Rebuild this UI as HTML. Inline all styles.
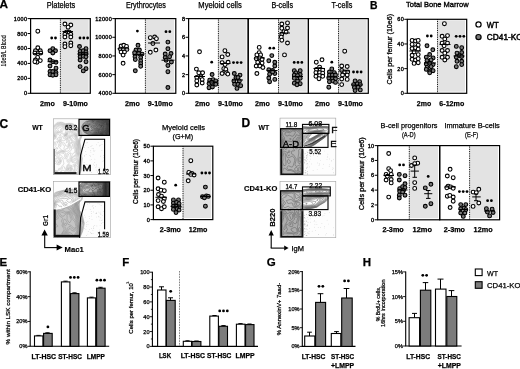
<!DOCTYPE html>
<html><head><meta charset="utf-8"><title>Figure</title>
<style>html,body{margin:0;padding:0;background:#fff;} svg{display:block;}</style>
</head><body>
<svg width="520" height="369" viewBox="0 0 520 369">
<rect x="0" y="0" width="520" height="369" fill="#fff"/>
<text x="-0.6" y="8.4" font-size="11.8" font-family="'Liberation Sans', Arial, sans-serif" fill="#000" stroke="#000" stroke-width="0.25" font-weight="bold">A</text>
<rect x="60.4" y="19.6" width="28.2" height="72.1" fill="#e3e3e3" stroke="none" stroke-width="1"/>
<line x1="60.4" y1="18.6" x2="60.4" y2="93.3" stroke="#000" stroke-width="1.0" stroke-dasharray="0.9,0.9"/>
<rect x="30.6" y="18.6" width="59.699999999999996" height="74.69999999999999" fill="none" stroke="#000" stroke-width="1.2"/>
<text x="46.7" y="7.8" font-size="8.4" font-family="'Liberation Sans', Arial, sans-serif" fill="#000" stroke="#000" stroke-width="0.25" textLength="28.6" lengthAdjust="spacingAndGlyphs">Platelets</text>
<text x="47.5" y="105.5" font-size="7.4" font-family="'Liberation Sans', Arial, sans-serif" fill="#000" stroke="#000" stroke-width="0.25" font-weight="bold" text-anchor="middle" textLength="14.8" lengthAdjust="spacingAndGlyphs">2mo</text>
<text x="75.5" y="105.5" font-size="7.4" font-family="'Liberation Sans', Arial, sans-serif" fill="#000" stroke="#000" stroke-width="0.25" font-weight="bold" text-anchor="middle" textLength="24.9" lengthAdjust="spacingAndGlyphs">9-10mo</text>
<rect x="145.4" y="19.6" width="28.700000000000006" height="72.1" fill="#e3e3e3" stroke="none" stroke-width="1"/>
<line x1="145.4" y1="18.6" x2="145.4" y2="93.3" stroke="#000" stroke-width="1.0" stroke-dasharray="0.9,0.9"/>
<rect x="115.3" y="18.6" width="60.500000000000014" height="74.69999999999999" fill="none" stroke="#000" stroke-width="1.2"/>
<text x="125.9" y="7.8" font-size="8.4" font-family="'Liberation Sans', Arial, sans-serif" fill="#000" stroke="#000" stroke-width="0.25" textLength="40.0" lengthAdjust="spacingAndGlyphs">Erythrocytes</text>
<text x="132.5" y="105.5" font-size="7.4" font-family="'Liberation Sans', Arial, sans-serif" fill="#000" stroke="#000" stroke-width="0.25" font-weight="bold" text-anchor="middle" textLength="14.8" lengthAdjust="spacingAndGlyphs">2mo</text>
<text x="160.3" y="105.5" font-size="7.4" font-family="'Liberation Sans', Arial, sans-serif" fill="#000" stroke="#000" stroke-width="0.25" font-weight="bold" text-anchor="middle" textLength="24.9" lengthAdjust="spacingAndGlyphs">9-10mo</text>
<rect x="218.4" y="19.6" width="28.099999999999984" height="72.1" fill="#e3e3e3" stroke="none" stroke-width="1"/>
<line x1="218.4" y1="18.6" x2="218.4" y2="93.3" stroke="#000" stroke-width="1.0" stroke-dasharray="0.9,0.9"/>
<rect x="188.6" y="18.6" width="59.599999999999994" height="74.69999999999999" fill="none" stroke="#000" stroke-width="1.2"/>
<text x="198.3" y="7.8" font-size="8.4" font-family="'Liberation Sans', Arial, sans-serif" fill="#000" stroke="#000" stroke-width="0.25" textLength="43.5" lengthAdjust="spacingAndGlyphs">Myeloid cells</text>
<text x="202.5" y="105.5" font-size="7.4" font-family="'Liberation Sans', Arial, sans-serif" fill="#000" stroke="#000" stroke-width="0.25" font-weight="bold" text-anchor="middle" textLength="14.8" lengthAdjust="spacingAndGlyphs">2mo</text>
<text x="230.5" y="105.5" font-size="7.4" font-family="'Liberation Sans', Arial, sans-serif" fill="#000" stroke="#000" stroke-width="0.25" font-weight="bold" text-anchor="middle" textLength="24.9" lengthAdjust="spacingAndGlyphs">9-10mo</text>
<rect x="278.5" y="19.6" width="28.199999999999978" height="72.1" fill="#e3e3e3" stroke="none" stroke-width="1"/>
<line x1="278.5" y1="18.6" x2="278.5" y2="93.3" stroke="#000" stroke-width="1.0" stroke-dasharray="0.9,0.9"/>
<rect x="248.2" y="18.6" width="60.19999999999999" height="74.69999999999999" fill="none" stroke="#000" stroke-width="1.2"/>
<text x="271.4" y="7.8" font-size="8.4" font-family="'Liberation Sans', Arial, sans-serif" fill="#000" stroke="#000" stroke-width="0.25" textLength="21.6" lengthAdjust="spacingAndGlyphs">B-cells</text>
<text x="262.5" y="105.5" font-size="7.4" font-family="'Liberation Sans', Arial, sans-serif" fill="#000" stroke="#000" stroke-width="0.25" font-weight="bold" text-anchor="middle" textLength="14.8" lengthAdjust="spacingAndGlyphs">2mo</text>
<text x="290.5" y="105.5" font-size="7.4" font-family="'Liberation Sans', Arial, sans-serif" fill="#000" stroke="#000" stroke-width="0.25" font-weight="bold" text-anchor="middle" textLength="24.9" lengthAdjust="spacingAndGlyphs">9-10mo</text>
<rect x="338.5" y="19.6" width="28.100000000000012" height="72.1" fill="#e3e3e3" stroke="none" stroke-width="1"/>
<line x1="338.5" y1="18.6" x2="338.5" y2="93.3" stroke="#000" stroke-width="1.0" stroke-dasharray="0.9,0.9"/>
<rect x="308.4" y="18.6" width="59.900000000000034" height="74.69999999999999" fill="none" stroke="#000" stroke-width="1.2"/>
<text x="331.4" y="7.8" font-size="8.4" font-family="'Liberation Sans', Arial, sans-serif" fill="#000" stroke="#000" stroke-width="0.25" textLength="20.9" lengthAdjust="spacingAndGlyphs">T-cells</text>
<text x="322.5" y="105.5" font-size="7.4" font-family="'Liberation Sans', Arial, sans-serif" fill="#000" stroke="#000" stroke-width="0.25" font-weight="bold" text-anchor="middle" textLength="14.8" lengthAdjust="spacingAndGlyphs">2mo</text>
<text x="350.5" y="105.5" font-size="7.4" font-family="'Liberation Sans', Arial, sans-serif" fill="#000" stroke="#000" stroke-width="0.25" font-weight="bold" text-anchor="middle" textLength="24.9" lengthAdjust="spacingAndGlyphs">9-10mo</text>
<line x1="27.6" y1="18.6" x2="30.6" y2="18.6" stroke="#000" stroke-width="1"/>
<text x="27.3" y="20.6" font-size="5.5" font-family="'Liberation Sans', Arial, sans-serif" fill="#000" stroke="#000" stroke-width="0.35" text-anchor="end" letter-spacing="0.3">1000</text>
<line x1="27.6" y1="33.54" x2="30.6" y2="33.54" stroke="#000" stroke-width="1"/>
<text x="27.3" y="35.54" font-size="5.5" font-family="'Liberation Sans', Arial, sans-serif" fill="#000" stroke="#000" stroke-width="0.35" text-anchor="end" letter-spacing="0.3">800</text>
<line x1="27.6" y1="48.48" x2="30.6" y2="48.48" stroke="#000" stroke-width="1"/>
<text x="27.3" y="50.48" font-size="5.5" font-family="'Liberation Sans', Arial, sans-serif" fill="#000" stroke="#000" stroke-width="0.35" text-anchor="end" letter-spacing="0.3">600</text>
<line x1="27.6" y1="63.419999999999995" x2="30.6" y2="63.419999999999995" stroke="#000" stroke-width="1"/>
<text x="27.3" y="65.41999999999999" font-size="5.5" font-family="'Liberation Sans', Arial, sans-serif" fill="#000" stroke="#000" stroke-width="0.35" text-anchor="end" letter-spacing="0.3">400</text>
<line x1="27.6" y1="78.35999999999999" x2="30.6" y2="78.35999999999999" stroke="#000" stroke-width="1"/>
<text x="27.3" y="80.35999999999999" font-size="5.5" font-family="'Liberation Sans', Arial, sans-serif" fill="#000" stroke="#000" stroke-width="0.35" text-anchor="end" letter-spacing="0.3">200</text>
<line x1="27.6" y1="93.29999999999998" x2="30.6" y2="93.29999999999998" stroke="#000" stroke-width="1"/>
<text x="27.3" y="95.29999999999998" font-size="5.5" font-family="'Liberation Sans', Arial, sans-serif" fill="#000" stroke="#000" stroke-width="0.35" text-anchor="end" letter-spacing="0.3">0</text>
<line x1="112.3" y1="18.6" x2="115.3" y2="18.6" stroke="#000" stroke-width="1"/>
<text x="112.0" y="20.6" font-size="5.5" font-family="'Liberation Sans', Arial, sans-serif" fill="#000" stroke="#000" stroke-width="0.35" text-anchor="end" letter-spacing="0.3">12000</text>
<line x1="112.3" y1="37.275" x2="115.3" y2="37.275" stroke="#000" stroke-width="1"/>
<text x="112.0" y="39.275" font-size="5.5" font-family="'Liberation Sans', Arial, sans-serif" fill="#000" stroke="#000" stroke-width="0.35" text-anchor="end" letter-spacing="0.3">10000</text>
<line x1="112.3" y1="55.949999999999996" x2="115.3" y2="55.949999999999996" stroke="#000" stroke-width="1"/>
<text x="112.0" y="57.949999999999996" font-size="5.5" font-family="'Liberation Sans', Arial, sans-serif" fill="#000" stroke="#000" stroke-width="0.35" text-anchor="end" letter-spacing="0.3">8000</text>
<line x1="112.3" y1="74.625" x2="115.3" y2="74.625" stroke="#000" stroke-width="1"/>
<text x="112.0" y="76.625" font-size="5.5" font-family="'Liberation Sans', Arial, sans-serif" fill="#000" stroke="#000" stroke-width="0.35" text-anchor="end" letter-spacing="0.3">6000</text>
<line x1="112.3" y1="93.29999999999998" x2="115.3" y2="93.29999999999998" stroke="#000" stroke-width="1"/>
<text x="112.0" y="95.29999999999998" font-size="5.5" font-family="'Liberation Sans', Arial, sans-serif" fill="#000" stroke="#000" stroke-width="0.35" text-anchor="end" letter-spacing="0.3">4000</text>
<line x1="185.6" y1="18.6" x2="188.6" y2="18.6" stroke="#000" stroke-width="1"/>
<text x="185.29999999999998" y="20.6" font-size="5.5" font-family="'Liberation Sans', Arial, sans-serif" fill="#000" stroke="#000" stroke-width="0.35" text-anchor="end" letter-spacing="0.3">8</text>
<line x1="185.6" y1="37.275" x2="188.6" y2="37.275" stroke="#000" stroke-width="1"/>
<text x="185.29999999999998" y="39.275" font-size="5.5" font-family="'Liberation Sans', Arial, sans-serif" fill="#000" stroke="#000" stroke-width="0.35" text-anchor="end" letter-spacing="0.3">6</text>
<line x1="185.6" y1="55.949999999999996" x2="188.6" y2="55.949999999999996" stroke="#000" stroke-width="1"/>
<text x="185.29999999999998" y="57.949999999999996" font-size="5.5" font-family="'Liberation Sans', Arial, sans-serif" fill="#000" stroke="#000" stroke-width="0.35" text-anchor="end" letter-spacing="0.3">4</text>
<line x1="185.6" y1="74.625" x2="188.6" y2="74.625" stroke="#000" stroke-width="1"/>
<text x="185.29999999999998" y="76.625" font-size="5.5" font-family="'Liberation Sans', Arial, sans-serif" fill="#000" stroke="#000" stroke-width="0.35" text-anchor="end" letter-spacing="0.3">2</text>
<line x1="185.6" y1="93.29999999999998" x2="188.6" y2="93.29999999999998" stroke="#000" stroke-width="1"/>
<text x="185.29999999999998" y="95.29999999999998" font-size="5.5" font-family="'Liberation Sans', Arial, sans-serif" fill="#000" stroke="#000" stroke-width="0.35" text-anchor="end" letter-spacing="0.3">0</text>
<text x="6.0" y="50.9" font-size="6.4" font-family="'Liberation Sans', Arial, sans-serif" fill="#000" stroke="#000" stroke-width="0.15" text-anchor="middle" textLength="31.2" lengthAdjust="spacingAndGlyphs" transform="rotate(-90 6.0 50.9)">10e9/L Blood</text>
<rect x="437.5" y="20.3" width="27.49999999999999" height="71.4" fill="#e3e3e3" stroke="none" stroke-width="1"/>
<line x1="437.5" y1="19.3" x2="437.5" y2="93.3" stroke="#000" stroke-width="1.0" stroke-dasharray="0.9,0.9"/>
<rect x="407.3" y="19.3" width="59.39999999999998" height="74.0" fill="none" stroke="#000" stroke-width="1.2"/>
<line x1="404.3" y1="19.3" x2="407.3" y2="19.3" stroke="#000" stroke-width="1"/>
<text x="404.0" y="21.3" font-size="5.5" font-family="'Liberation Sans', Arial, sans-serif" fill="#000" stroke="#000" stroke-width="0.35" text-anchor="end" letter-spacing="0.3">60</text>
<line x1="404.3" y1="43.96666666666667" x2="407.3" y2="43.96666666666667" stroke="#000" stroke-width="1"/>
<text x="404.0" y="45.96666666666667" font-size="5.5" font-family="'Liberation Sans', Arial, sans-serif" fill="#000" stroke="#000" stroke-width="0.35" text-anchor="end" letter-spacing="0.3">40</text>
<line x1="404.3" y1="68.63333333333333" x2="407.3" y2="68.63333333333333" stroke="#000" stroke-width="1"/>
<text x="404.0" y="70.63333333333333" font-size="5.5" font-family="'Liberation Sans', Arial, sans-serif" fill="#000" stroke="#000" stroke-width="0.35" text-anchor="end" letter-spacing="0.3">20</text>
<line x1="404.3" y1="93.3" x2="407.3" y2="93.3" stroke="#000" stroke-width="1"/>
<text x="404.0" y="95.3" font-size="5.5" font-family="'Liberation Sans', Arial, sans-serif" fill="#000" stroke="#000" stroke-width="0.35" text-anchor="end" letter-spacing="0.3">0</text>
<text x="370.0" y="8.7" font-size="10.4" font-family="'Liberation Sans', Arial, sans-serif" fill="#000" stroke="#000" stroke-width="0.25" font-weight="bold">B</text>
<text x="406" y="7.4" font-size="7.5" font-family="'Liberation Sans', Arial, sans-serif" fill="#000" stroke="#000" stroke-width="0.35" textLength="62.6" lengthAdjust="spacingAndGlyphs">Total Bone Marrow</text>
<text x="424" y="105.5" font-size="7.4" font-family="'Liberation Sans', Arial, sans-serif" fill="#000" stroke="#000" stroke-width="0.25" font-weight="bold" text-anchor="middle" textLength="14.4" lengthAdjust="spacingAndGlyphs">2mo</text>
<text x="451.8" y="105.5" font-size="7.4" font-family="'Liberation Sans', Arial, sans-serif" fill="#000" stroke="#000" stroke-width="0.25" font-weight="bold" text-anchor="middle" textLength="24.9" lengthAdjust="spacingAndGlyphs">6-12mo</text>
<text x="391.8" y="49.2" font-size="7.8" font-family="'Liberation Sans', Arial, sans-serif" fill="#000" stroke="#000" stroke-width="0.3" text-anchor="middle" textLength="70.5" lengthAdjust="spacingAndGlyphs" transform="rotate(-90 391.8 49.2)">Cells per femur (10e6)</text>
<circle cx="478.5" cy="24.4" r="2.6" fill="#fff" stroke="#000" stroke-width="1.2"/>
<text x="486.8" y="27.6" font-size="8.2" font-family="'Liberation Sans', Arial, sans-serif" fill="#000" stroke="#000" stroke-width="0.45" textLength="11.9" lengthAdjust="spacingAndGlyphs">WT</text>
<circle cx="478.5" cy="37.1" r="2.6" fill="#7a7a7a" stroke="#000" stroke-width="1.2"/>
<text x="486.8" y="40.1" font-size="8.2" font-family="'Liberation Sans', Arial, sans-serif" fill="#000" stroke="#000" stroke-width="0.45" textLength="36" lengthAdjust="spacingAndGlyphs">CD41-KO</text>
<circle cx="37.8" cy="31.2" r="1.9" fill="#fff" stroke="#000" stroke-width="1.1"/>
<circle cx="37.8" cy="47.8" r="1.9" fill="#fff" stroke="#000" stroke-width="1.1"/>
<circle cx="35.4" cy="50.8" r="1.9" fill="#fff" stroke="#000" stroke-width="1.1"/>
<circle cx="40.3" cy="50.8" r="1.9" fill="#fff" stroke="#000" stroke-width="1.1"/>
<circle cx="34.9" cy="53" r="1.9" fill="#fff" stroke="#000" stroke-width="1.1"/>
<circle cx="38.1" cy="53.6" r="1.9" fill="#fff" stroke="#000" stroke-width="1.1"/>
<circle cx="40.8" cy="53" r="1.9" fill="#fff" stroke="#000" stroke-width="1.1"/>
<circle cx="37.6" cy="57.4" r="1.9" fill="#fff" stroke="#000" stroke-width="1.1"/>
<circle cx="35.4" cy="60" r="1.9" fill="#fff" stroke="#000" stroke-width="1.1"/>
<circle cx="40.3" cy="60.6" r="1.9" fill="#fff" stroke="#000" stroke-width="1.1"/>
<circle cx="37" cy="62.2" r="1.9" fill="#fff" stroke="#000" stroke-width="1.1"/>
<circle cx="34.9" cy="61.7" r="1.9" fill="#fff" stroke="#000" stroke-width="1.1"/>
<line x1="33" y1="53.6" x2="43" y2="53.6" stroke="#000" stroke-width="1"/>
<circle cx="52.8" cy="48.7" r="1.9" fill="#7a7a7a" stroke="#000" stroke-width="1.1"/>
<circle cx="50" cy="50.8" r="1.9" fill="#7a7a7a" stroke="#000" stroke-width="1.1"/>
<circle cx="55.5" cy="50.8" r="1.9" fill="#7a7a7a" stroke="#000" stroke-width="1.1"/>
<circle cx="52.8" cy="53" r="1.9" fill="#7a7a7a" stroke="#000" stroke-width="1.1"/>
<circle cx="50" cy="60" r="1.9" fill="#7a7a7a" stroke="#000" stroke-width="1.1"/>
<circle cx="52.8" cy="61.7" r="1.9" fill="#7a7a7a" stroke="#000" stroke-width="1.1"/>
<circle cx="56" cy="62.2" r="1.9" fill="#7a7a7a" stroke="#000" stroke-width="1.1"/>
<circle cx="50" cy="66" r="1.9" fill="#7a7a7a" stroke="#000" stroke-width="1.1"/>
<circle cx="56" cy="68.2" r="1.9" fill="#7a7a7a" stroke="#000" stroke-width="1.1"/>
<circle cx="50" cy="71.5" r="1.9" fill="#7a7a7a" stroke="#000" stroke-width="1.1"/>
<circle cx="52.8" cy="71.5" r="1.9" fill="#7a7a7a" stroke="#000" stroke-width="1.1"/>
<circle cx="56" cy="72.5" r="1.9" fill="#7a7a7a" stroke="#000" stroke-width="1.1"/>
<circle cx="50" cy="74.7" r="1.9" fill="#7a7a7a" stroke="#000" stroke-width="1.1"/>
<circle cx="52.8" cy="75.2" r="1.9" fill="#7a7a7a" stroke="#000" stroke-width="1.1"/>
<circle cx="56" cy="74.7" r="1.9" fill="#7a7a7a" stroke="#000" stroke-width="1.1"/>
<line x1="47.5" y1="61.7" x2="58" y2="61.7" stroke="#000" stroke-width="1"/>
<circle cx="51.70" cy="38" r="1.4" fill="#000"/>
<circle cx="55.50" cy="38" r="1.4" fill="#000"/>
<circle cx="64.9" cy="24" r="1.9" fill="#fff" stroke="#000" stroke-width="1.1"/>
<circle cx="70.8" cy="25" r="1.9" fill="#fff" stroke="#000" stroke-width="1.1"/>
<circle cx="68.1" cy="27.2" r="1.9" fill="#fff" stroke="#000" stroke-width="1.1"/>
<circle cx="66.5" cy="32.1" r="1.9" fill="#fff" stroke="#000" stroke-width="1.1"/>
<circle cx="69.2" cy="32.1" r="1.9" fill="#fff" stroke="#000" stroke-width="1.1"/>
<circle cx="64.9" cy="34.3" r="1.9" fill="#fff" stroke="#000" stroke-width="1.1"/>
<circle cx="70.8" cy="34.3" r="1.9" fill="#fff" stroke="#000" stroke-width="1.1"/>
<circle cx="64.9" cy="37" r="1.9" fill="#fff" stroke="#000" stroke-width="1.1"/>
<circle cx="70.8" cy="37" r="1.9" fill="#fff" stroke="#000" stroke-width="1.1"/>
<circle cx="64.9" cy="44" r="1.9" fill="#fff" stroke="#000" stroke-width="1.1"/>
<circle cx="70.8" cy="43" r="1.9" fill="#fff" stroke="#000" stroke-width="1.1"/>
<circle cx="64.9" cy="46.7" r="1.9" fill="#fff" stroke="#000" stroke-width="1.1"/>
<circle cx="70.8" cy="45.7" r="1.9" fill="#fff" stroke="#000" stroke-width="1.1"/>
<line x1="62.5" y1="31.5" x2="73" y2="31.5" stroke="#000" stroke-width="1"/>
<circle cx="79.5" cy="46.5" r="1.9" fill="#7a7a7a" stroke="#000" stroke-width="1.1"/>
<circle cx="86" cy="48.7" r="1.9" fill="#7a7a7a" stroke="#000" stroke-width="1.1"/>
<circle cx="80.1" cy="51.4" r="1.9" fill="#7a7a7a" stroke="#000" stroke-width="1.1"/>
<circle cx="83.3" cy="50.8" r="1.9" fill="#7a7a7a" stroke="#000" stroke-width="1.1"/>
<circle cx="86" cy="51.9" r="1.9" fill="#7a7a7a" stroke="#000" stroke-width="1.1"/>
<circle cx="80.1" cy="54.1" r="1.9" fill="#7a7a7a" stroke="#000" stroke-width="1.1"/>
<circle cx="83.3" cy="54.1" r="1.9" fill="#7a7a7a" stroke="#000" stroke-width="1.1"/>
<circle cx="86" cy="54.1" r="1.9" fill="#7a7a7a" stroke="#000" stroke-width="1.1"/>
<circle cx="80.1" cy="56.8" r="1.9" fill="#7a7a7a" stroke="#000" stroke-width="1.1"/>
<circle cx="83.3" cy="56.3" r="1.9" fill="#7a7a7a" stroke="#000" stroke-width="1.1"/>
<circle cx="86" cy="56.8" r="1.9" fill="#7a7a7a" stroke="#000" stroke-width="1.1"/>
<circle cx="80.1" cy="60" r="1.9" fill="#7a7a7a" stroke="#000" stroke-width="1.1"/>
<circle cx="86" cy="61.7" r="1.9" fill="#7a7a7a" stroke="#000" stroke-width="1.1"/>
<circle cx="80.1" cy="66.6" r="1.9" fill="#7a7a7a" stroke="#000" stroke-width="1.1"/>
<circle cx="86" cy="68.7" r="1.9" fill="#7a7a7a" stroke="#000" stroke-width="1.1"/>
<circle cx="83.3" cy="70.9" r="1.9" fill="#7a7a7a" stroke="#000" stroke-width="1.1"/>
<line x1="77.5" y1="54" x2="88.5" y2="54" stroke="#000" stroke-width="1"/>
<circle cx="80.00" cy="38" r="1.4" fill="#000"/>
<circle cx="83.80" cy="38" r="1.4" fill="#000"/>
<circle cx="87.60" cy="38" r="1.4" fill="#000"/>
<circle cx="121.1" cy="46" r="1.9" fill="#fff" stroke="#000" stroke-width="1.1"/>
<circle cx="123.8" cy="45.3" r="1.9" fill="#fff" stroke="#000" stroke-width="1.1"/>
<circle cx="126.5" cy="46.4" r="1.9" fill="#fff" stroke="#000" stroke-width="1.1"/>
<circle cx="120.4" cy="49.1" r="1.9" fill="#fff" stroke="#000" stroke-width="1.1"/>
<circle cx="123.4" cy="49.4" r="1.9" fill="#fff" stroke="#000" stroke-width="1.1"/>
<circle cx="126.9" cy="49.4" r="1.9" fill="#fff" stroke="#000" stroke-width="1.1"/>
<circle cx="121.1" cy="52.1" r="1.9" fill="#fff" stroke="#000" stroke-width="1.1"/>
<circle cx="124.5" cy="52.1" r="1.9" fill="#fff" stroke="#000" stroke-width="1.1"/>
<circle cx="123.1" cy="55.1" r="1.9" fill="#fff" stroke="#000" stroke-width="1.1"/>
<circle cx="123.1" cy="63.3" r="1.9" fill="#fff" stroke="#000" stroke-width="1.1"/>
<line x1="117.5" y1="48.8" x2="128.5" y2="48.8" stroke="#000" stroke-width="1"/>
<circle cx="138" cy="45.3" r="1.9" fill="#7a7a7a" stroke="#000" stroke-width="1.1"/>
<circle cx="136" cy="50" r="1.9" fill="#7a7a7a" stroke="#000" stroke-width="1.1"/>
<circle cx="139.4" cy="50" r="1.9" fill="#7a7a7a" stroke="#000" stroke-width="1.1"/>
<circle cx="134.6" cy="52.8" r="1.9" fill="#7a7a7a" stroke="#000" stroke-width="1.1"/>
<circle cx="138.7" cy="53.5" r="1.9" fill="#7a7a7a" stroke="#000" stroke-width="1.1"/>
<circle cx="142.1" cy="54.1" r="1.9" fill="#7a7a7a" stroke="#000" stroke-width="1.1"/>
<circle cx="135" cy="56.8" r="1.9" fill="#7a7a7a" stroke="#000" stroke-width="1.1"/>
<circle cx="140.7" cy="57.5" r="1.9" fill="#7a7a7a" stroke="#000" stroke-width="1.1"/>
<circle cx="135.3" cy="59.6" r="1.9" fill="#7a7a7a" stroke="#000" stroke-width="1.1"/>
<circle cx="140.7" cy="60.9" r="1.9" fill="#7a7a7a" stroke="#000" stroke-width="1.1"/>
<circle cx="140.7" cy="63.6" r="1.9" fill="#7a7a7a" stroke="#000" stroke-width="1.1"/>
<circle cx="140.7" cy="66.3" r="1.9" fill="#7a7a7a" stroke="#000" stroke-width="1.1"/>
<circle cx="135.3" cy="70.8" r="1.9" fill="#7a7a7a" stroke="#000" stroke-width="1.1"/>
<line x1="132.5" y1="54.6" x2="143.5" y2="54.6" stroke="#000" stroke-width="1"/>
<circle cx="137.40" cy="31.1" r="1.4" fill="#000"/>
<circle cx="150.3" cy="37.7" r="1.9" fill="#fff" stroke="#000" stroke-width="1.1"/>
<circle cx="154.7" cy="37" r="1.9" fill="#fff" stroke="#000" stroke-width="1.1"/>
<circle cx="156.4" cy="38.7" r="1.9" fill="#fff" stroke="#000" stroke-width="1.1"/>
<circle cx="152.9" cy="43.5" r="1.9" fill="#fff" stroke="#000" stroke-width="1.1"/>
<circle cx="150.3" cy="52.3" r="1.9" fill="#fff" stroke="#000" stroke-width="1.1"/>
<circle cx="155.9" cy="50" r="1.9" fill="#fff" stroke="#000" stroke-width="1.1"/>
<line x1="148" y1="43" x2="160" y2="43" stroke="#000" stroke-width="1"/>
<circle cx="167.9" cy="42.1" r="1.9" fill="#7a7a7a" stroke="#000" stroke-width="1.1"/>
<circle cx="167.9" cy="48.8" r="1.9" fill="#7a7a7a" stroke="#000" stroke-width="1.1"/>
<circle cx="165.2" cy="54" r="1.9" fill="#7a7a7a" stroke="#000" stroke-width="1.1"/>
<circle cx="171" cy="53.5" r="1.9" fill="#7a7a7a" stroke="#000" stroke-width="1.1"/>
<circle cx="165.2" cy="57.6" r="1.9" fill="#7a7a7a" stroke="#000" stroke-width="1.1"/>
<circle cx="169.6" cy="56.7" r="1.9" fill="#7a7a7a" stroke="#000" stroke-width="1.1"/>
<circle cx="166.1" cy="60.2" r="1.9" fill="#7a7a7a" stroke="#000" stroke-width="1.1"/>
<circle cx="171.4" cy="62" r="1.9" fill="#7a7a7a" stroke="#000" stroke-width="1.1"/>
<circle cx="167.9" cy="65.5" r="1.9" fill="#7a7a7a" stroke="#000" stroke-width="1.1"/>
<circle cx="167.9" cy="71.7" r="1.9" fill="#7a7a7a" stroke="#000" stroke-width="1.1"/>
<circle cx="167.9" cy="87.5" r="1.9" fill="#7a7a7a" stroke="#000" stroke-width="1.1"/>
<line x1="161.5" y1="60.2" x2="174.5" y2="60.2" stroke="#000" stroke-width="1"/>
<circle cx="166.00" cy="31.7" r="1.4" fill="#000"/>
<circle cx="169.80" cy="31.7" r="1.4" fill="#000"/>
<circle cx="199.5" cy="51.8" r="1.9" fill="#fff" stroke="#000" stroke-width="1.1"/>
<circle cx="196.4" cy="69.1" r="1.9" fill="#fff" stroke="#000" stroke-width="1.1"/>
<circle cx="198.8" cy="72.8" r="1.9" fill="#fff" stroke="#000" stroke-width="1.1"/>
<circle cx="202.6" cy="72.8" r="1.9" fill="#fff" stroke="#000" stroke-width="1.1"/>
<circle cx="196.8" cy="77.5" r="1.9" fill="#fff" stroke="#000" stroke-width="1.1"/>
<circle cx="200.9" cy="76.8" r="1.9" fill="#fff" stroke="#000" stroke-width="1.1"/>
<circle cx="196.8" cy="80.9" r="1.9" fill="#fff" stroke="#000" stroke-width="1.1"/>
<circle cx="202.2" cy="79.6" r="1.9" fill="#fff" stroke="#000" stroke-width="1.1"/>
<circle cx="196.8" cy="85" r="1.9" fill="#fff" stroke="#000" stroke-width="1.1"/>
<circle cx="202.2" cy="83" r="1.9" fill="#fff" stroke="#000" stroke-width="1.1"/>
<line x1="194" y1="76.5" x2="205" y2="76.5" stroke="#000" stroke-width="1"/>
<circle cx="212.1" cy="74.5" r="1.9" fill="#7a7a7a" stroke="#000" stroke-width="1.1"/>
<circle cx="209.7" cy="80.2" r="1.9" fill="#7a7a7a" stroke="#000" stroke-width="1.1"/>
<circle cx="213.1" cy="79.6" r="1.9" fill="#7a7a7a" stroke="#000" stroke-width="1.1"/>
<circle cx="215.8" cy="80.9" r="1.9" fill="#7a7a7a" stroke="#000" stroke-width="1.1"/>
<circle cx="209" cy="83.6" r="1.9" fill="#7a7a7a" stroke="#000" stroke-width="1.1"/>
<circle cx="212.4" cy="83.6" r="1.9" fill="#7a7a7a" stroke="#000" stroke-width="1.1"/>
<circle cx="215.8" cy="84.3" r="1.9" fill="#7a7a7a" stroke="#000" stroke-width="1.1"/>
<circle cx="209" cy="87.7" r="1.9" fill="#7a7a7a" stroke="#000" stroke-width="1.1"/>
<circle cx="212.4" cy="87" r="1.9" fill="#7a7a7a" stroke="#000" stroke-width="1.1"/>
<circle cx="211.7" cy="82.3" r="1.9" fill="#7a7a7a" stroke="#000" stroke-width="1.1"/>
<line x1="207" y1="82" x2="217.5" y2="82" stroke="#000" stroke-width="1"/>
<circle cx="211.70" cy="62.2" r="1.4" fill="#000"/>
<circle cx="224.9" cy="50.7" r="1.9" fill="#fff" stroke="#000" stroke-width="1.1"/>
<circle cx="227.8" cy="54.5" r="1.9" fill="#fff" stroke="#000" stroke-width="1.1"/>
<circle cx="222.1" cy="56.9" r="1.9" fill="#fff" stroke="#000" stroke-width="1.1"/>
<circle cx="222.1" cy="62.6" r="1.9" fill="#fff" stroke="#000" stroke-width="1.1"/>
<circle cx="228.1" cy="62.3" r="1.9" fill="#fff" stroke="#000" stroke-width="1.1"/>
<circle cx="225.1" cy="64.6" r="1.9" fill="#fff" stroke="#000" stroke-width="1.1"/>
<circle cx="223.8" cy="68.7" r="1.9" fill="#fff" stroke="#000" stroke-width="1.1"/>
<circle cx="225.8" cy="69.4" r="1.9" fill="#fff" stroke="#000" stroke-width="1.1"/>
<circle cx="222.1" cy="73.5" r="1.9" fill="#fff" stroke="#000" stroke-width="1.1"/>
<circle cx="226.5" cy="72.8" r="1.9" fill="#fff" stroke="#000" stroke-width="1.1"/>
<circle cx="227.8" cy="74.1" r="1.9" fill="#fff" stroke="#000" stroke-width="1.1"/>
<line x1="220.5" y1="63.5" x2="230.5" y2="63.5" stroke="#000" stroke-width="1"/>
<circle cx="234.3" cy="73.5" r="1.9" fill="#7a7a7a" stroke="#000" stroke-width="1.1"/>
<circle cx="240" cy="75.1" r="1.9" fill="#7a7a7a" stroke="#000" stroke-width="1.1"/>
<circle cx="236" cy="77.5" r="1.9" fill="#7a7a7a" stroke="#000" stroke-width="1.1"/>
<circle cx="238" cy="77.5" r="1.9" fill="#7a7a7a" stroke="#000" stroke-width="1.1"/>
<circle cx="233.9" cy="80.9" r="1.9" fill="#7a7a7a" stroke="#000" stroke-width="1.1"/>
<circle cx="239.4" cy="80.9" r="1.9" fill="#7a7a7a" stroke="#000" stroke-width="1.1"/>
<circle cx="234.6" cy="84.3" r="1.9" fill="#7a7a7a" stroke="#000" stroke-width="1.1"/>
<circle cx="238" cy="84.3" r="1.9" fill="#7a7a7a" stroke="#000" stroke-width="1.1"/>
<circle cx="240.7" cy="85.7" r="1.9" fill="#7a7a7a" stroke="#000" stroke-width="1.1"/>
<circle cx="237" cy="88.4" r="1.9" fill="#7a7a7a" stroke="#000" stroke-width="1.1"/>
<line x1="232" y1="80" x2="243" y2="80" stroke="#000" stroke-width="1"/>
<circle cx="233.50" cy="62.6" r="1.4" fill="#000"/>
<circle cx="237.30" cy="62.6" r="1.4" fill="#000"/>
<circle cx="241.10" cy="62.6" r="1.4" fill="#000"/>
<circle cx="259.2" cy="47.4" r="1.9" fill="#fff" stroke="#000" stroke-width="1.1"/>
<circle cx="259.2" cy="52.6" r="1.9" fill="#fff" stroke="#000" stroke-width="1.1"/>
<circle cx="256.9" cy="54.9" r="1.9" fill="#fff" stroke="#000" stroke-width="1.1"/>
<circle cx="260.6" cy="54.9" r="1.9" fill="#fff" stroke="#000" stroke-width="1.1"/>
<circle cx="256.2" cy="58.6" r="1.9" fill="#fff" stroke="#000" stroke-width="1.1"/>
<circle cx="259.9" cy="57.9" r="1.9" fill="#fff" stroke="#000" stroke-width="1.1"/>
<circle cx="262.1" cy="59.3" r="1.9" fill="#fff" stroke="#000" stroke-width="1.1"/>
<circle cx="257.7" cy="62.3" r="1.9" fill="#fff" stroke="#000" stroke-width="1.1"/>
<circle cx="262.1" cy="63.1" r="1.9" fill="#fff" stroke="#000" stroke-width="1.1"/>
<circle cx="256.2" cy="66" r="1.9" fill="#fff" stroke="#000" stroke-width="1.1"/>
<circle cx="259.9" cy="66" r="1.9" fill="#fff" stroke="#000" stroke-width="1.1"/>
<circle cx="262.9" cy="67.5" r="1.9" fill="#fff" stroke="#000" stroke-width="1.1"/>
<circle cx="256.9" cy="73.5" r="1.9" fill="#fff" stroke="#000" stroke-width="1.1"/>
<line x1="254" y1="58" x2="265" y2="58" stroke="#000" stroke-width="1"/>
<circle cx="271.8" cy="55.6" r="1.9" fill="#7a7a7a" stroke="#000" stroke-width="1.1"/>
<circle cx="268.8" cy="60.8" r="1.9" fill="#7a7a7a" stroke="#000" stroke-width="1.1"/>
<circle cx="274.8" cy="62.3" r="1.9" fill="#7a7a7a" stroke="#000" stroke-width="1.1"/>
<circle cx="274.8" cy="66" r="1.9" fill="#7a7a7a" stroke="#000" stroke-width="1.1"/>
<circle cx="268.8" cy="69.8" r="1.9" fill="#7a7a7a" stroke="#000" stroke-width="1.1"/>
<circle cx="272.6" cy="70.5" r="1.9" fill="#7a7a7a" stroke="#000" stroke-width="1.1"/>
<circle cx="269.6" cy="74.2" r="1.9" fill="#7a7a7a" stroke="#000" stroke-width="1.1"/>
<circle cx="274.8" cy="73.5" r="1.9" fill="#7a7a7a" stroke="#000" stroke-width="1.1"/>
<circle cx="272.6" cy="72" r="1.9" fill="#7a7a7a" stroke="#000" stroke-width="1.1"/>
<circle cx="268.8" cy="78" r="1.9" fill="#7a7a7a" stroke="#000" stroke-width="1.1"/>
<circle cx="274.8" cy="79.4" r="1.9" fill="#7a7a7a" stroke="#000" stroke-width="1.1"/>
<circle cx="269.6" cy="81.7" r="1.9" fill="#7a7a7a" stroke="#000" stroke-width="1.1"/>
<line x1="266.5" y1="70.5" x2="277.5" y2="70.5" stroke="#000" stroke-width="1"/>
<circle cx="269.90" cy="48.2" r="1.4" fill="#000"/>
<circle cx="273.70" cy="48.2" r="1.4" fill="#000"/>
<circle cx="281.8" cy="24" r="1.9" fill="#fff" stroke="#000" stroke-width="1.1"/>
<circle cx="287.5" cy="22.9" r="1.9" fill="#fff" stroke="#000" stroke-width="1.1"/>
<circle cx="281.8" cy="28.3" r="1.9" fill="#fff" stroke="#000" stroke-width="1.1"/>
<circle cx="287.5" cy="28" r="1.9" fill="#fff" stroke="#000" stroke-width="1.1"/>
<circle cx="284" cy="31.6" r="1.9" fill="#fff" stroke="#000" stroke-width="1.1"/>
<circle cx="286.1" cy="32.1" r="1.9" fill="#fff" stroke="#000" stroke-width="1.1"/>
<circle cx="281.8" cy="34.3" r="1.9" fill="#fff" stroke="#000" stroke-width="1.1"/>
<circle cx="281.3" cy="37" r="1.9" fill="#fff" stroke="#000" stroke-width="1.1"/>
<circle cx="281.8" cy="40.2" r="1.9" fill="#fff" stroke="#000" stroke-width="1.1"/>
<circle cx="287.5" cy="43" r="1.9" fill="#fff" stroke="#000" stroke-width="1.1"/>
<circle cx="284.5" cy="54.9" r="1.9" fill="#fff" stroke="#000" stroke-width="1.1"/>
<line x1="279.5" y1="33" x2="290" y2="33" stroke="#000" stroke-width="1"/>
<circle cx="294.3" cy="70.7" r="1.9" fill="#7a7a7a" stroke="#000" stroke-width="1.1"/>
<circle cx="300.2" cy="70.7" r="1.9" fill="#7a7a7a" stroke="#000" stroke-width="1.1"/>
<circle cx="295.9" cy="72.9" r="1.9" fill="#7a7a7a" stroke="#000" stroke-width="1.1"/>
<circle cx="294.3" cy="75.1" r="1.9" fill="#7a7a7a" stroke="#000" stroke-width="1.1"/>
<circle cx="300.2" cy="74.5" r="1.9" fill="#7a7a7a" stroke="#000" stroke-width="1.1"/>
<circle cx="297.5" cy="75.6" r="1.9" fill="#7a7a7a" stroke="#000" stroke-width="1.1"/>
<circle cx="294.3" cy="78.3" r="1.9" fill="#7a7a7a" stroke="#000" stroke-width="1.1"/>
<circle cx="300.2" cy="78.3" r="1.9" fill="#7a7a7a" stroke="#000" stroke-width="1.1"/>
<circle cx="297.5" cy="81" r="1.9" fill="#7a7a7a" stroke="#000" stroke-width="1.1"/>
<circle cx="294.3" cy="83.2" r="1.9" fill="#7a7a7a" stroke="#000" stroke-width="1.1"/>
<circle cx="300.2" cy="83.7" r="1.9" fill="#7a7a7a" stroke="#000" stroke-width="1.1"/>
<circle cx="297" cy="84.8" r="1.9" fill="#7a7a7a" stroke="#000" stroke-width="1.1"/>
<line x1="292" y1="76.5" x2="303" y2="76.5" stroke="#000" stroke-width="1"/>
<circle cx="294.20" cy="62.4" r="1.4" fill="#000"/>
<circle cx="298.00" cy="62.4" r="1.4" fill="#000"/>
<circle cx="301.80" cy="62.4" r="1.4" fill="#000"/>
<circle cx="316.3" cy="62.2" r="1.9" fill="#fff" stroke="#000" stroke-width="1.1"/>
<circle cx="322" cy="59.8" r="1.9" fill="#fff" stroke="#000" stroke-width="1.1"/>
<circle cx="319.6" cy="67.1" r="1.9" fill="#fff" stroke="#000" stroke-width="1.1"/>
<circle cx="316.5" cy="69.5" r="1.9" fill="#fff" stroke="#000" stroke-width="1.1"/>
<circle cx="320.2" cy="69.5" r="1.9" fill="#fff" stroke="#000" stroke-width="1.1"/>
<circle cx="322.7" cy="70.1" r="1.9" fill="#fff" stroke="#000" stroke-width="1.1"/>
<circle cx="315.9" cy="72.6" r="1.9" fill="#fff" stroke="#000" stroke-width="1.1"/>
<circle cx="319.6" cy="72.6" r="1.9" fill="#fff" stroke="#000" stroke-width="1.1"/>
<circle cx="322.7" cy="73.2" r="1.9" fill="#fff" stroke="#000" stroke-width="1.1"/>
<circle cx="315.9" cy="76.3" r="1.9" fill="#fff" stroke="#000" stroke-width="1.1"/>
<circle cx="319.6" cy="75.6" r="1.9" fill="#fff" stroke="#000" stroke-width="1.1"/>
<circle cx="322.7" cy="76.3" r="1.9" fill="#fff" stroke="#000" stroke-width="1.1"/>
<circle cx="319" cy="78.7" r="1.9" fill="#fff" stroke="#000" stroke-width="1.1"/>
<line x1="313.5" y1="68.5" x2="325" y2="68.5" stroke="#000" stroke-width="1"/>
<circle cx="331.8" cy="68.9" r="1.9" fill="#7a7a7a" stroke="#000" stroke-width="1.1"/>
<circle cx="329.4" cy="72" r="1.9" fill="#7a7a7a" stroke="#000" stroke-width="1.1"/>
<circle cx="334.3" cy="72.6" r="1.9" fill="#7a7a7a" stroke="#000" stroke-width="1.1"/>
<circle cx="329.4" cy="75" r="1.9" fill="#7a7a7a" stroke="#000" stroke-width="1.1"/>
<circle cx="332.4" cy="75" r="1.9" fill="#7a7a7a" stroke="#000" stroke-width="1.1"/>
<circle cx="335.5" cy="75" r="1.9" fill="#7a7a7a" stroke="#000" stroke-width="1.1"/>
<circle cx="328.8" cy="78.1" r="1.9" fill="#7a7a7a" stroke="#000" stroke-width="1.1"/>
<circle cx="332.4" cy="78.1" r="1.9" fill="#7a7a7a" stroke="#000" stroke-width="1.1"/>
<circle cx="335.5" cy="78.7" r="1.9" fill="#7a7a7a" stroke="#000" stroke-width="1.1"/>
<circle cx="329.4" cy="81.7" r="1.9" fill="#7a7a7a" stroke="#000" stroke-width="1.1"/>
<circle cx="333" cy="81.1" r="1.9" fill="#7a7a7a" stroke="#000" stroke-width="1.1"/>
<circle cx="335.5" cy="82.4" r="1.9" fill="#7a7a7a" stroke="#000" stroke-width="1.1"/>
<circle cx="328.8" cy="87.2" r="1.9" fill="#7a7a7a" stroke="#000" stroke-width="1.1"/>
<line x1="326.5" y1="77" x2="337.5" y2="77" stroke="#000" stroke-width="1"/>
<circle cx="331.80" cy="62.2" r="1.4" fill="#000"/>
<circle cx="344.7" cy="51.2" r="1.9" fill="#fff" stroke="#000" stroke-width="1.1"/>
<circle cx="341.7" cy="66" r="1.9" fill="#fff" stroke="#000" stroke-width="1.1"/>
<circle cx="347.2" cy="66.5" r="1.9" fill="#fff" stroke="#000" stroke-width="1.1"/>
<circle cx="341.7" cy="70.5" r="1.9" fill="#fff" stroke="#000" stroke-width="1.1"/>
<circle cx="344.7" cy="72" r="1.9" fill="#fff" stroke="#000" stroke-width="1.1"/>
<circle cx="347.7" cy="72" r="1.9" fill="#fff" stroke="#000" stroke-width="1.1"/>
<circle cx="342.5" cy="75" r="1.9" fill="#fff" stroke="#000" stroke-width="1.1"/>
<circle cx="347.2" cy="75" r="1.9" fill="#fff" stroke="#000" stroke-width="1.1"/>
<circle cx="341.7" cy="79" r="1.9" fill="#fff" stroke="#000" stroke-width="1.1"/>
<circle cx="347.2" cy="79.4" r="1.9" fill="#fff" stroke="#000" stroke-width="1.1"/>
<circle cx="341.7" cy="84.6" r="1.9" fill="#fff" stroke="#000" stroke-width="1.1"/>
<line x1="339.5" y1="71" x2="350" y2="71" stroke="#000" stroke-width="1"/>
<circle cx="355.1" cy="80.9" r="1.9" fill="#7a7a7a" stroke="#000" stroke-width="1.1"/>
<circle cx="359.6" cy="81.7" r="1.9" fill="#7a7a7a" stroke="#000" stroke-width="1.1"/>
<circle cx="353.6" cy="84.6" r="1.9" fill="#7a7a7a" stroke="#000" stroke-width="1.1"/>
<circle cx="357.3" cy="83.9" r="1.9" fill="#7a7a7a" stroke="#000" stroke-width="1.1"/>
<circle cx="360.3" cy="84.6" r="1.9" fill="#7a7a7a" stroke="#000" stroke-width="1.1"/>
<circle cx="354.4" cy="87.6" r="1.9" fill="#7a7a7a" stroke="#000" stroke-width="1.1"/>
<circle cx="358.1" cy="87.3" r="1.9" fill="#7a7a7a" stroke="#000" stroke-width="1.1"/>
<circle cx="360.3" cy="89.9" r="1.9" fill="#7a7a7a" stroke="#000" stroke-width="1.1"/>
<circle cx="355.1" cy="90.6" r="1.9" fill="#7a7a7a" stroke="#000" stroke-width="1.1"/>
<line x1="351.5" y1="85" x2="362.5" y2="85" stroke="#000" stroke-width="1"/>
<circle cx="353.50" cy="72" r="1.4" fill="#000"/>
<circle cx="357.30" cy="72" r="1.4" fill="#000"/>
<circle cx="361.10" cy="72" r="1.4" fill="#000"/>
<circle cx="412.1" cy="40.4" r="1.9" fill="#fff" stroke="#000" stroke-width="1.1"/>
<circle cx="415.5" cy="41" r="1.9" fill="#fff" stroke="#000" stroke-width="1.1"/>
<circle cx="418.2" cy="40.4" r="1.9" fill="#fff" stroke="#000" stroke-width="1.1"/>
<circle cx="412.1" cy="44.4" r="1.9" fill="#fff" stroke="#000" stroke-width="1.1"/>
<circle cx="418.2" cy="45.1" r="1.9" fill="#fff" stroke="#000" stroke-width="1.1"/>
<circle cx="412.1" cy="48.5" r="1.9" fill="#fff" stroke="#000" stroke-width="1.1"/>
<circle cx="415.5" cy="47.8" r="1.9" fill="#fff" stroke="#000" stroke-width="1.1"/>
<circle cx="418.2" cy="49.2" r="1.9" fill="#fff" stroke="#000" stroke-width="1.1"/>
<circle cx="414.1" cy="51.9" r="1.9" fill="#fff" stroke="#000" stroke-width="1.1"/>
<circle cx="412.1" cy="55.3" r="1.9" fill="#fff" stroke="#000" stroke-width="1.1"/>
<circle cx="418.2" cy="54.6" r="1.9" fill="#fff" stroke="#000" stroke-width="1.1"/>
<circle cx="412.1" cy="59.3" r="1.9" fill="#fff" stroke="#000" stroke-width="1.1"/>
<circle cx="415.5" cy="60" r="1.9" fill="#fff" stroke="#000" stroke-width="1.1"/>
<circle cx="418.2" cy="58.7" r="1.9" fill="#fff" stroke="#000" stroke-width="1.1"/>
<circle cx="414.1" cy="63.4" r="1.9" fill="#fff" stroke="#000" stroke-width="1.1"/>
<circle cx="418.2" cy="62.7" r="1.9" fill="#fff" stroke="#000" stroke-width="1.1"/>
<line x1="409.5" y1="51" x2="421" y2="51" stroke="#000" stroke-width="1"/>
<circle cx="427" cy="45.8" r="1.9" fill="#7a7a7a" stroke="#000" stroke-width="1.1"/>
<circle cx="432.8" cy="49.8" r="1.9" fill="#7a7a7a" stroke="#000" stroke-width="1.1"/>
<circle cx="429.7" cy="54.5" r="1.9" fill="#7a7a7a" stroke="#000" stroke-width="1.1"/>
<circle cx="426.3" cy="57.2" r="1.9" fill="#7a7a7a" stroke="#000" stroke-width="1.1"/>
<circle cx="433.1" cy="57.9" r="1.9" fill="#7a7a7a" stroke="#000" stroke-width="1.1"/>
<circle cx="427" cy="60.6" r="1.9" fill="#7a7a7a" stroke="#000" stroke-width="1.1"/>
<circle cx="431.1" cy="59.9" r="1.9" fill="#7a7a7a" stroke="#000" stroke-width="1.1"/>
<circle cx="426.3" cy="64" r="1.9" fill="#7a7a7a" stroke="#000" stroke-width="1.1"/>
<circle cx="429.7" cy="63.3" r="1.9" fill="#7a7a7a" stroke="#000" stroke-width="1.1"/>
<circle cx="433.1" cy="64.6" r="1.9" fill="#7a7a7a" stroke="#000" stroke-width="1.1"/>
<circle cx="427" cy="67.4" r="1.9" fill="#7a7a7a" stroke="#000" stroke-width="1.1"/>
<circle cx="431.1" cy="66.7" r="1.9" fill="#7a7a7a" stroke="#000" stroke-width="1.1"/>
<circle cx="426.3" cy="69.4" r="1.9" fill="#7a7a7a" stroke="#000" stroke-width="1.1"/>
<circle cx="429.7" cy="71.4" r="1.9" fill="#7a7a7a" stroke="#000" stroke-width="1.1"/>
<circle cx="433.1" cy="70.7" r="1.9" fill="#7a7a7a" stroke="#000" stroke-width="1.1"/>
<circle cx="429.7" cy="72.8" r="1.9" fill="#7a7a7a" stroke="#000" stroke-width="1.1"/>
<line x1="424" y1="63" x2="436" y2="63" stroke="#000" stroke-width="1"/>
<circle cx="427.40" cy="36" r="1.4" fill="#000"/>
<circle cx="431.20" cy="36" r="1.4" fill="#000"/>
<circle cx="444.4" cy="23.7" r="1.9" fill="#fff" stroke="#000" stroke-width="1.1"/>
<circle cx="442.1" cy="36.3" r="1.9" fill="#fff" stroke="#000" stroke-width="1.1"/>
<circle cx="447.5" cy="35.6" r="1.9" fill="#fff" stroke="#000" stroke-width="1.1"/>
<circle cx="444.8" cy="39" r="1.9" fill="#fff" stroke="#000" stroke-width="1.1"/>
<circle cx="442.1" cy="43.1" r="1.9" fill="#fff" stroke="#000" stroke-width="1.1"/>
<circle cx="447.5" cy="43.1" r="1.9" fill="#fff" stroke="#000" stroke-width="1.1"/>
<circle cx="444.1" cy="45.8" r="1.9" fill="#fff" stroke="#000" stroke-width="1.1"/>
<circle cx="442.1" cy="50.5" r="1.9" fill="#fff" stroke="#000" stroke-width="1.1"/>
<circle cx="447.5" cy="50.5" r="1.9" fill="#fff" stroke="#000" stroke-width="1.1"/>
<circle cx="444.8" cy="53.2" r="1.9" fill="#fff" stroke="#000" stroke-width="1.1"/>
<circle cx="442.1" cy="57.3" r="1.9" fill="#fff" stroke="#000" stroke-width="1.1"/>
<circle cx="447.5" cy="57.3" r="1.9" fill="#fff" stroke="#000" stroke-width="1.1"/>
<circle cx="444.8" cy="60" r="1.9" fill="#fff" stroke="#000" stroke-width="1.1"/>
<line x1="439.5" y1="44.5" x2="450.5" y2="44.5" stroke="#000" stroke-width="1"/>
<circle cx="456.3" cy="46.4" r="1.9" fill="#7a7a7a" stroke="#000" stroke-width="1.1"/>
<circle cx="461.7" cy="47.7" r="1.9" fill="#7a7a7a" stroke="#000" stroke-width="1.1"/>
<circle cx="457" cy="53.1" r="1.9" fill="#7a7a7a" stroke="#000" stroke-width="1.1"/>
<circle cx="461.7" cy="52.5" r="1.9" fill="#7a7a7a" stroke="#000" stroke-width="1.1"/>
<circle cx="456.3" cy="57.2" r="1.9" fill="#7a7a7a" stroke="#000" stroke-width="1.1"/>
<circle cx="459.7" cy="55.8" r="1.9" fill="#7a7a7a" stroke="#000" stroke-width="1.1"/>
<circle cx="461.7" cy="56.5" r="1.9" fill="#7a7a7a" stroke="#000" stroke-width="1.1"/>
<circle cx="457" cy="61.3" r="1.9" fill="#7a7a7a" stroke="#000" stroke-width="1.1"/>
<circle cx="461.7" cy="61.3" r="1.9" fill="#7a7a7a" stroke="#000" stroke-width="1.1"/>
<circle cx="461.7" cy="64.6" r="1.9" fill="#7a7a7a" stroke="#000" stroke-width="1.1"/>
<circle cx="456.3" cy="66.7" r="1.9" fill="#7a7a7a" stroke="#000" stroke-width="1.1"/>
<line x1="453.5" y1="56" x2="464.5" y2="56" stroke="#000" stroke-width="1"/>
<circle cx="456.20" cy="36.3" r="1.4" fill="#000"/>
<circle cx="460.00" cy="36.3" r="1.4" fill="#000"/>
<circle cx="463.80" cy="36.3" r="1.4" fill="#000"/>
<text x="-0.6" y="127.5" font-size="12" font-family="'Liberation Sans', Arial, sans-serif" fill="#000" stroke="#000" stroke-width="0.25" font-weight="bold">C</text>
<text x="32.2" y="129.9" font-size="7.8" font-family="'Liberation Sans', Arial, sans-serif" fill="#000" stroke="#000" stroke-width="0.15" font-weight="bold" textLength="10.6" lengthAdjust="spacingAndGlyphs">WT</text>
<text x="17.7" y="191.5" font-size="7.6" font-family="'Liberation Sans', Arial, sans-serif" fill="#000" stroke="#000" stroke-width="0.15" font-weight="bold" textLength="33.6" lengthAdjust="spacingAndGlyphs">CD41-KO</text>
<clipPath id="cC118"><rect x="53.699999999999996" y="119.1" width="56.400000000000006" height="55.29999999999999"/></clipPath>
<rect x="53.4" y="118.8" width="57.00000000000001" height="55.89999999999999" fill="#fdfdfd" stroke="#a0a0a0" stroke-width="0.6"/>
<clipPath id="cG118"><rect x="79.0" y="119.39999999999999" width="30.400000000000006" height="16.000000000000014"/></clipPath>
<defs><linearGradient id="lgcG118" x1="0" x2="1" y1="0" y2="0"><stop offset="0" stop-color="#d4d4d4"/><stop offset="0.38" stop-color="#b4b4b4"/><stop offset="0.55" stop-color="#7c7c7c"/><stop offset="0.85" stop-color="#5a5a5a"/><stop offset="0.93" stop-color="#444"/><stop offset="1" stop-color="#a0a0a0"/></linearGradient></defs>
<rect x="79.0" y="119.39999999999999" width="30.400000000000006" height="16.000000000000014" fill="url(#lgcG118)" stroke="none" stroke-width="1"/>
<path d="M53.6,125.6 54.7,125.0 56.6,122.9 57.9,122.3 61.9,122.2 65.6,123.7 68.6,123.3 71.9,123.4 75.9,125.3 78.2,128.1 80.4,130.0 82.4,135.0 80.1,140.6 79.9,142.0 81.1,149.3 82.0,152.0 81.8,156.3 82.4,158.3 81.5,165.6 82.0,169.0 79.5,174.3 M53.6,126.1 54.9,125.4 56.9,123.5 60.2,122.7 61.9,122.7 65.2,124.0 68.6,123.6 71.6,123.9 73.9,124.6 76.2,126.1 80.2,130.3 82.1,135.0 79.9,140.3 79.6,142.0 80.7,149.3 81.5,152.0 81.4,156.3 82.0,158.6 81.2,165.6 81.6,169.0 79.3,174.3 M53.6,126.5 54.9,126.0 56.9,124.1 60.6,123.2 65.2,124.4 69.6,123.9 74.2,125.2 76.6,126.9 79.8,130.3 81.7,135.0 79.6,140.0 79.4,142.0 79.9,147.0 80.9,151.6 81.0,156.3 81.7,158.6 80.9,165.6 81.1,169.0 79.0,174.3 M53.6,127.0 55.2,126.4 57.2,124.5 60.6,123.8 65.2,124.8 69.2,124.2 74.2,125.6 76.2,127.1 79.5,130.6 80.0,132.6 81.3,135.0 79.4,139.6 79.1,142.0 79.5,147.3 80.3,151.3 80.1,153.3 81.3,159.0 80.9,161.3 80.7,169.0 78.8,174.3 M53.6,127.7 55.2,127.2 57.6,125.0 61.2,124.4 65.6,125.3 68.9,124.4 71.2,125.4 73.9,125.8 75.9,127.3 79.1,130.6 79.7,133.0 80.7,135.0 80.6,136.0 79.0,139.0 78.8,142.3 79.1,147.3 79.8,150.6 79.5,153.6 81.0,159.0 80.3,169.0 78.5,174.3 M78.0,137.0 78.0,135.6 76.9,135.3 76.7,136.3 78.0,137.0 M53.6,128.6 55.6,128.3 57.6,125.7 61.6,125.0 65.6,125.9 67.6,124.9 68.9,124.8 71.5,126.0 73.2,126.0 74.2,126.5 78.7,130.6 79.9,135.6 79.2,136.2 78.3,135.0 77.2,134.8 76.6,135.1 76.2,136.0 78.4,139.0 78.7,147.3 79.2,150.3 79.1,153.6 79.5,156.3 80.6,159.0 79.9,169.0 78.2,174.3 M53.6,136.7 54.1,136.0 53.6,134.9 M53.6,132.1 54.1,130.0 56.2,129.0 57.6,126.6 61.9,125.7 65.6,126.7 67.6,125.4 68.6,125.1 71.6,126.4 73.9,126.8 78.3,130.6 78.7,132.0 78.6,133.8 76.6,134.7 75.9,136.0 78.1,140.0 78.9,156.0 80.2,159.0 79.5,169.0 77.8,174.3 M53.6,137.2 54.4,136.0 53.6,134.2 M53.6,137.6 54.7,136.3 54.0,133.3 54.9,131.2 56.2,130.5 57.6,131.2 58.3,131.0 58.4,130.3 57.7,129.3 58.2,128.0 60.2,127.5 61.9,126.6 63.2,126.6 65.6,127.4 67.9,125.7 68.9,125.6 71.6,126.9 73.9,127.4 77.9,130.6 78.1,133.0 76.2,134.6 75.6,136.0 77.7,140.3 78.4,156.3 79.8,159.0 79.5,162.0 79.7,164.3 79.1,169.3 77.4,174.3 M53.6,138.0 54.9,136.6 54.6,133.6 55.2,132.2 55.9,131.8 57.9,131.9 60.5,131.3 60.8,129.0 62.6,127.4 65.6,127.9 68.2,126.2 69.2,126.2 73.6,127.8 75.0,129.3 77.5,131.0 77.6,132.6 75.9,134.5 75.2,136.3 77.2,140.6 78.0,154.3 77.6,156.6 79.3,159.0 79.4,164.6 78.6,169.3 76.7,174.3 M53.6,144.7 53.6,144.0 M53.6,138.5 54.6,137.9 55.2,136.9 55.2,133.6 55.6,132.9 60.9,132.0 61.6,131.3 61.9,129.3 62.9,128.4 65.9,128.3 69.2,126.8 72.9,128.3 74.6,129.9 76.9,131.2 76.9,132.3 75.4,134.6 74.7,136.6 76.7,140.6 77.2,145.0 77.1,151.0 77.6,154.3 76.7,157.0 78.8,159.3 78.7,162.3 79.1,165.0 78.0,169.3 77.2,170.2 75.6,171.0 75.5,173.0 74.8,174.3 M65.6,134.6 65.9,134.0 65.2,133.3 64.5,134.3 64.9,134.8 65.6,134.6 M61.0,146.3 61.0,144.3 60.6,142.8 60.1,142.3 59.2,142.3 59.8,143.6 59.9,146.2 60.6,146.6 61.0,146.3 M53.6,146.0 55.1,144.6 54.9,144.0 53.6,143.1 M53.6,150.4 53.6,149.1 M70.4,170.0 70.7,168.6 69.9,168.4 69.2,169.6 69.9,170.3 70.4,170.0 M54.3,174.3 53.6,173.9 M56.8,174.3 56.1,174.3 M53.6,139.1 54.9,138.3 55.6,137.4 55.9,134.0 56.2,133.4 60.9,132.7 62.3,131.6 63.6,129.4 65.9,128.8 68.6,127.5 69.6,127.4 70.9,128.0 72.6,130.0 75.4,131.6 75.4,133.6 73.7,137.0 75.2,138.7 76.2,140.6 76.6,145.0 76.4,147.0 76.8,149.0 76.6,151.3 77.1,154.0 75.7,157.0 78.2,159.4 78.7,165.0 77.6,168.4 75.6,169.7 74.6,171.0 73.9,174.3 M65.7,135.0 66.2,133.6 65.6,132.7 64.9,132.7 64.1,133.6 64.0,134.6 64.9,135.2 65.7,135.0 M64.4,150.3 63.9,148.3 64.5,146.6 63.9,145.0 62.6,144.3 61.2,142.0 60.6,141.5 59.2,141.3 57.7,142.0 57.4,143.0 58.8,144.3 58.6,147.0 60.2,148.3 61.4,150.0 63.2,150.6 64.4,150.3 M53.6,151.8 54.6,151.3 56.2,151.4 56.7,151.0 54.7,147.3 56.0,145.6 56.1,143.6 53.6,142.4 M70.0,171.0 70.9,170.3 71.4,169.0 71.2,168.3 70.2,167.8 69.2,168.1 68.7,169.6 69.0,170.6 70.0,171.0 M57.5,174.3 56.6,173.5 54.9,173.8 53.6,173.4 M53.6,140.0 55.9,138.3 56.6,136.6 56.8,134.6 57.2,134.1 58.7,134.3 59.5,135.6 60.6,135.9 60.9,135.6 60.3,134.3 62.9,132.8 63.1,134.6 63.6,135.2 64.9,135.5 65.9,135.2 66.5,133.6 65.5,131.3 65.5,130.3 66.5,129.3 68.9,128.1 69.9,128.1 70.6,128.6 70.8,130.3 71.2,130.9 73.6,131.4 74.5,132.3 74.8,133.6 74.4,135.0 71.8,137.3 73.8,138.6 75.6,141.0 76.0,144.3 75.7,146.6 76.3,149.0 76.1,151.3 76.5,154.0 75.2,156.0 72.8,157.3 72.3,158.6 72.9,159.5 74.2,158.2 75.2,157.9 77.4,159.3 77.8,160.3 78.2,165.0 77.9,166.2 77.2,166.9 76.6,167.0 75.6,166.2 75.1,166.3 75.4,168.3 74.0,171.0 73.0,174.3 M53.6,154.3 54.6,152.9 57.2,152.3 59.6,150.6 63.9,151.2 65.1,151.0 65.7,150.3 65.6,148.9 65.9,148.6 67.6,148.8 67.9,148.0 67.2,146.2 65.6,145.6 64.9,143.3 62.9,142.7 61.2,141.0 58.6,140.8 55.6,142.2 54.4,142.0 53.6,141.3 M57.6,148.9 56.6,148.5 56.6,147.4 57.6,147.9 57.6,148.9 M69.8,172.0 71.1,171.0 71.9,169.0 71.6,167.9 69.9,167.2 68.7,168.0 68.2,170.3 68.6,171.6 69.8,172.0 M58.0,174.3 56.9,173.1 54.9,173.3 53.6,172.9 M65.9,174.3 64.6,173.9 63.2,174.3 M70.6,174.3 69.6,174.3 M53.6,157.3 53.9,155.6 55.2,154.0 59.6,151.7 61.2,151.2 64.9,151.7 68.2,151.0 69.8,149.3 68.4,147.0 67.8,145.0 68.9,142.6 68.9,142.0 67.7,141.6 66.9,142.9 66.6,142.8 66.2,142.0 66.9,141.3 66.9,140.6 65.6,139.8 64.8,140.0 63.9,141.0 62.3,140.3 57.3,140.0 57.0,139.3 57.6,138.0 58.9,137.1 61.9,137.0 63.2,136.2 65.9,135.5 66.8,134.0 66.8,131.0 68.2,129.6 69.2,129.6 70.6,131.4 73.6,132.3 74.1,133.3 74.0,134.6 70.9,136.7 70.4,137.6 72.0,139.0 72.3,141.0 74.2,141.0 75.1,142.0 75.4,144.0 75.0,146.6 75.7,149.0 75.7,153.6 74.9,155.3 72.1,157.0 71.5,158.6 72.0,160.0 72.9,160.6 74.9,158.8 76.6,159.6 77.2,160.6 77.4,165.0 76.9,165.5 75.2,165.3 74.5,165.6 74.4,168.6 72.2,173.0 71.6,172.8 71.4,172.3 72.5,169.3 72.3,168.0 71.2,167.1 69.2,166.5 68.3,167.6 66.8,172.6 63.9,173.2 61.7,174.3 M59.0,161.0 59.0,161.0 M58.4,174.3 56.9,172.6 54.9,172.8 53.6,172.4 M53.6,158.9 54.6,158.7 56.9,159.0 57.1,157.3 55.6,156.0 55.6,155.0 57.2,153.6 61.2,151.9 65.8,153.0 65.8,156.3 66.2,156.8 66.6,156.6 67.4,153.0 69.9,151.7 71.5,149.6 71.6,149.0 71.2,148.2 69.2,147.0 68.7,146.0 68.7,144.6 69.7,142.6 69.7,141.6 66.3,139.3 63.6,138.5 63.3,137.6 63.9,136.8 66.6,135.3 67.2,134.0 67.3,132.0 67.9,131.2 68.9,131.2 72.9,132.8 73.4,133.6 73.2,134.5 70.6,136.2 69.8,137.6 71.1,139.3 71.5,141.3 72.2,141.8 74.2,142.3 74.6,143.0 74.8,152.0 74.3,153.0 73.2,153.2 72.6,153.9 70.7,158.6 71.8,161.0 72.6,161.5 73.6,161.4 75.2,160.1 75.9,160.4 76.5,161.6 76.6,163.6 76.2,164.3 73.9,165.2 72.9,167.1 69.2,165.4 68.6,165.5 66.6,170.9 65.6,171.6 62.6,172.8 60.8,174.3 M61.2,139.4 59.6,139.4 58.9,138.6 59.6,138.0 61.2,138.0 62.0,138.6 61.2,139.4 M59.0,162.0 59.8,161.3 59.6,160.3 58.6,159.8 57.6,160.0 57.8,161.3 59.0,162.0 M59.0,174.3 57.2,172.4 54.6,172.2 53.6,171.7 M70.2,140.3 69.2,140.3 64.8,137.6 66.9,135.3 67.9,132.6 68.6,132.1 72.3,133.6 72.2,134.3 70.2,135.8 69.4,137.3 69.4,138.3 70.3,139.6 70.2,140.3 M73.6,148.3 72.9,148.4 69.4,146.0 69.5,144.3 70.9,142.3 73.2,143.0 73.9,143.6 73.6,148.3 M53.6,159.9 55.2,159.8 57.9,162.5 59.2,162.6 60.2,161.6 60.4,160.6 58.3,158.6 57.9,156.6 57.0,155.3 57.5,154.3 59.2,153.3 60.9,152.9 63.9,153.5 64.6,154.3 64.8,157.3 66.6,158.0 67.5,157.3 68.6,154.0 70.9,152.8 71.2,153.0 70.4,155.0 69.8,159.0 71.9,162.3 73.2,162.6 75.2,162.0 75.7,163.0 75.4,163.6 73.2,164.4 71.9,165.7 70.9,165.5 69.6,164.3 68.4,164.6 67.5,166.0 66.4,170.0 64.6,170.8 62.9,170.1 61.7,170.3 61.5,172.6 60.2,173.9 59.2,173.7 57.2,172.0 54.9,171.7 53.6,170.9 M68.2,138.8 66.7,138.3 65.9,137.3 68.6,133.7 69.2,133.5 69.9,134.0 70.0,134.6 68.2,138.8 M72.6,146.3 71.2,146.2 70.3,145.6 70.2,144.3 70.9,143.4 71.6,143.3 72.5,144.0 72.6,146.3 M53.6,161.5 54.2,160.8 55.2,161.0 57.2,163.2 58.2,163.8 59.9,163.0 60.9,161.0 60.6,160.0 59.1,158.0 59.0,155.0 59.9,154.3 64.2,158.5 68.6,159.4 69.8,160.3 70.2,161.3 69.9,162.6 67.1,165.0 65.9,169.2 64.9,169.2 64.6,167.0 63.6,166.2 62.9,166.6 62.2,168.9 59.7,169.3 59.6,170.0 60.7,172.0 60.2,172.8 59.6,172.9 57.2,171.5 54.9,171.0 53.6,169.8 M53.6,168.0 53.9,167.0 53.6,165.8 M67.9,137.7 67.2,137.6 67.0,137.0 67.9,135.8 68.6,135.6 67.9,137.7 M58.2,170.9 55.6,170.5 54.6,169.6 54.2,164.3 55.2,163.4 58.2,164.8 60.2,164.1 61.5,161.3 61.4,160.0 60.3,158.0 60.6,157.5 61.2,157.4 63.0,159.0 64.0,164.0 62.2,165.5 61.2,167.9 58.6,168.7 58.2,170.9 M67.9,162.6 67.2,162.0 66.8,160.6 68.2,160.6 68.9,161.0 68.9,162.0 67.9,162.6" fill="none" stroke="#a4a4a4" stroke-width="0.35" clip-path="url(#cC118)"/>
<rect x="54" y="172.1" width="22.5" height="2.0" fill="#1a1a1a" stroke="none" stroke-width="1"/>
<rect x="53.6" y="148.8" width="1.3" height="24.89999999999999" fill="#666" stroke="none" stroke-width="1"/>
<path d="M90.8,135.2 88.5,134.7 84.1,132.2 82.3,129.2 81.7,126.6 83.2,123.6 86.2,121.3 88.2,120.9 91.4,119.6 M102.4,135.2 101.5,134.7 100.6,135.2 M109.2,134.7 108.8,135.2 M97.6,135.2 91.8,135.0 88.5,134.1 84.3,131.9 82.3,127.9 82.3,126.6 83.5,124.2 85.2,123.2 86.5,121.9 93.4,119.6 M109.2,134.1 108.2,135.2 M102.7,135.2 101.5,134.4 100.1,135.2 M98.7,135.2 96.8,134.6 91.8,134.6 86.2,132.5 84.3,131.2 82.9,127.9 83.2,126.5 86.8,122.5 94.7,119.6 M109.2,133.3 108.3,134.6 107.3,135.2 M103.0,135.2 102.2,134.2 101.5,134.1 99.2,135.2 M103.3,135.2 102.6,134.2 101.8,133.8 99.2,134.8 96.8,134.3 91.8,134.2 89.8,133.0 85.5,131.6 84.5,130.6 83.7,127.6 86.8,123.4 89.2,122.9 91.5,121.0 93.8,120.5 95.6,119.6 M98.0,119.6 99.6,119.6 M101.5,119.6 102.8,119.6 M108.8,119.6 109.2,120.2 M109.2,132.6 108.2,134.1 106.7,135.2 M103.6,135.2 102.8,134.0 101.8,133.5 99.2,134.2 92.2,133.8 90.2,132.4 85.5,130.8 85.0,129.9 84.7,128.2 85.1,126.9 86.8,124.4 89.5,123.6 91.8,121.5 96.2,120.0 98.8,120.3 100.5,119.9 102.2,120.3 103.2,119.6 M108.3,119.6 109.2,121.2 M109.2,130.2 109.2,131.2 M109.2,131.3 108.2,133.4 106.2,135.2 M104.1,135.2 103.2,133.8 101.8,133.1 99.2,133.6 92.5,133.2 86.3,129.9 85.9,129.2 86.2,126.9 87.2,125.2 90.5,123.7 92.2,122.1 96.5,120.7 100.5,120.6 101.8,120.9 103.6,119.6 M107.9,119.6 109.2,122.5 M109.2,129.5 108.3,132.6 105.7,135.2 M109.2,128.9 108.5,129.9 107.9,132.6 104.8,135.0 103.2,133.3 101.8,132.8 99.5,133.0 97.5,132.6 93.8,132.6 89.5,130.9 87.6,128.9 87.5,126.2 88.5,125.0 91.2,124.0 92.5,123.0 94.9,122.6 97.2,121.4 101.8,121.8 104.0,119.6 M107.3,119.6 109.0,123.2 109.2,126.1 M106.4,119.6 107.4,120.6 108.6,123.6 109.1,127.6 108.1,129.9 107.9,131.9 106.2,133.7 104.8,134.0 103.8,133.1 101.5,132.3 99.5,132.3 97.5,131.8 94.8,132.0 93.2,131.0 90.5,130.2 89.5,129.4 88.4,126.6 88.8,125.5 91.5,124.8 92.8,124.1 94.8,123.9 98.2,121.9 101.8,122.6 104.7,119.6 M105.8,133.3 103.8,132.4 97.5,130.7 94.8,130.9 92.2,129.3 90.1,126.9 90.0,126.2 92.8,125.4 94.5,125.7 95.6,124.6 98.8,122.7 101.5,123.7 104.2,120.4 105.2,120.0 106.2,120.1 106.8,120.7 108.2,123.6 108.6,127.6 107.5,131.9 105.8,133.3 M106.2,132.7 102.1,131.2 101.5,130.6 101.2,128.9 98.8,129.8 95.2,129.8 92.8,128.4 92.2,127.6 92.3,126.9 92.8,126.6 94.8,126.9 96.2,125.6 98.8,124.1 100.5,124.8 101.5,124.8 102.2,124.2 104.2,121.0 105.8,120.7 107.9,123.9 108.1,127.2 107.1,131.6 106.2,132.7 M105.8,132.0 102.5,130.6 102.2,129.6 102.4,127.6 101.8,126.8 101.2,126.9 98.8,128.9 97.0,128.6 96.4,127.9 98.5,125.6 101.2,126.1 102.6,125.2 104.1,121.9 105.2,121.3 105.8,121.5 107.2,123.2 107.7,124.6 107.5,128.2 106.4,131.6 105.8,132.0 M105.2,130.3 103.5,130.2 103.0,129.2 103.9,126.2 103.9,123.6 104.5,122.5 105.2,122.2 106.8,123.4 107.3,124.9 106.8,128.7 106.2,129.7 105.2,130.3" fill="none" stroke="#3a3a3a" stroke-width="0.4" clip-path="url(#cG118)"/>
<g fill="#bdbdbd" opacity="1" clip-path="url(#cC118)"><circle cx="96.5" cy="164.5" r="0.35"/><circle cx="99.9" cy="170.9" r="0.35"/><circle cx="98.8" cy="170.2" r="0.35"/><circle cx="84.6" cy="155.7" r="0.35"/><circle cx="102.9" cy="161.5" r="0.35"/><circle cx="102.0" cy="144.4" r="0.35"/><circle cx="93.4" cy="148.7" r="0.35"/><circle cx="94.9" cy="159.1" r="0.35"/><circle cx="84.3" cy="147.7" r="0.35"/><circle cx="89.6" cy="170.0" r="0.35"/><circle cx="99.3" cy="145.9" r="0.35"/><circle cx="99.9" cy="145.2" r="0.35"/><circle cx="96.3" cy="144.8" r="0.35"/><circle cx="84.0" cy="168.6" r="0.35"/><circle cx="88.2" cy="147.7" r="0.35"/><circle cx="103.6" cy="168.6" r="0.35"/><circle cx="89.8" cy="171.5" r="0.35"/><circle cx="94.8" cy="162.4" r="0.35"/><circle cx="88.1" cy="170.8" r="0.35"/><circle cx="97.8" cy="171.6" r="0.35"/><circle cx="101.9" cy="150.3" r="0.35"/><circle cx="91.2" cy="146.1" r="0.35"/><circle cx="86.9" cy="142.9" r="0.35"/><circle cx="90.0" cy="160.0" r="0.35"/><circle cx="84.1" cy="162.4" r="0.35"/><circle cx="90.8" cy="150.7" r="0.35"/><circle cx="100.4" cy="156.1" r="0.35"/><circle cx="90.3" cy="156.2" r="0.35"/><circle cx="98.1" cy="142.6" r="0.35"/><circle cx="103.5" cy="141.5" r="0.35"/><circle cx="99.0" cy="167.8" r="0.35"/><circle cx="84.4" cy="165.9" r="0.35"/><circle cx="91.3" cy="159.3" r="0.35"/><circle cx="84.2" cy="142.3" r="0.35"/><circle cx="87.6" cy="171.3" r="0.35"/><circle cx="87.9" cy="164.9" r="0.35"/><circle cx="102.6" cy="170.9" r="0.35"/><circle cx="90.9" cy="152.1" r="0.35"/><circle cx="94.5" cy="165.5" r="0.35"/><circle cx="86.2" cy="164.7" r="0.35"/><circle cx="99.9" cy="168.2" r="0.35"/><circle cx="84.7" cy="171.0" r="0.35"/><circle cx="85.8" cy="151.7" r="0.35"/><circle cx="96.2" cy="170.1" r="0.35"/><circle cx="90.8" cy="170.3" r="0.35"/><circle cx="94.9" cy="150.8" r="0.35"/><circle cx="90.3" cy="146.5" r="0.35"/><circle cx="85.6" cy="145.5" r="0.35"/><circle cx="97.8" cy="172.6" r="0.35"/><circle cx="87.2" cy="142.3" r="0.35"/><circle cx="103.7" cy="157.8" r="0.35"/><circle cx="92.1" cy="148.4" r="0.35"/><circle cx="95.9" cy="167.2" r="0.35"/><circle cx="93.1" cy="154.3" r="0.35"/><circle cx="85.1" cy="170.0" r="0.35"/><circle cx="84.7" cy="156.5" r="0.35"/><circle cx="100.8" cy="145.0" r="0.35"/><circle cx="98.6" cy="171.1" r="0.35"/><circle cx="96.6" cy="165.9" r="0.35"/><circle cx="86.1" cy="154.7" r="0.35"/><circle cx="87.0" cy="167.7" r="0.35"/><circle cx="89.9" cy="155.3" r="0.35"/><circle cx="104.0" cy="168.0" r="0.35"/><circle cx="103.5" cy="155.3" r="0.35"/><circle cx="93.8" cy="164.1" r="0.35"/><circle cx="93.6" cy="150.1" r="0.35"/><circle cx="92.1" cy="145.5" r="0.35"/><circle cx="91.5" cy="172.3" r="0.35"/><circle cx="103.2" cy="160.8" r="0.35"/><circle cx="94.0" cy="151.6" r="0.35"/></g>
<g fill="#333" opacity="1" clip-path="url(#cG118)"><circle cx="97.0" cy="121.8" r="0.35"/><circle cx="103.0" cy="120.6" r="0.35"/><circle cx="100.9" cy="125.3" r="0.35"/><circle cx="92.1" cy="127.5" r="0.35"/><circle cx="91.7" cy="126.3" r="0.35"/><circle cx="92.3" cy="120.9" r="0.35"/><circle cx="98.8" cy="132.6" r="0.35"/><circle cx="93.3" cy="123.0" r="0.35"/><circle cx="102.5" cy="134.6" r="0.35"/><circle cx="101.6" cy="125.7" r="0.35"/><circle cx="109.0" cy="120.1" r="0.35"/><circle cx="106.8" cy="124.0" r="0.35"/><circle cx="93.7" cy="121.3" r="0.35"/><circle cx="96.7" cy="132.5" r="0.35"/><circle cx="94.3" cy="128.7" r="0.35"/><circle cx="102.8" cy="125.4" r="0.35"/><circle cx="101.1" cy="120.4" r="0.35"/><circle cx="92.1" cy="122.7" r="0.35"/><circle cx="103.5" cy="126.2" r="0.35"/><circle cx="96.8" cy="128.8" r="0.35"/><circle cx="99.3" cy="124.2" r="0.35"/><circle cx="105.6" cy="130.6" r="0.35"/><circle cx="95.5" cy="128.6" r="0.35"/><circle cx="100.7" cy="133.4" r="0.35"/><circle cx="104.4" cy="124.0" r="0.35"/><circle cx="109.0" cy="121.3" r="0.35"/><circle cx="98.7" cy="131.5" r="0.35"/><circle cx="93.8" cy="127.2" r="0.35"/><circle cx="91.7" cy="130.1" r="0.35"/><circle cx="105.1" cy="128.6" r="0.35"/><circle cx="107.1" cy="124.4" r="0.35"/><circle cx="103.8" cy="128.9" r="0.35"/><circle cx="101.7" cy="126.7" r="0.35"/><circle cx="106.5" cy="134.5" r="0.35"/><circle cx="99.7" cy="130.0" r="0.35"/><circle cx="92.1" cy="130.6" r="0.35"/><circle cx="102.9" cy="135.3" r="0.35"/><circle cx="106.1" cy="124.0" r="0.35"/><circle cx="98.1" cy="130.1" r="0.35"/><circle cx="91.4" cy="126.8" r="0.35"/></g>
<rect x="79.0" y="119.39999999999999" width="30.400000000000006" height="16.000000000000014" fill="none" stroke="#000" stroke-width="1.2"/>
<path d="M79.6,174.7 L80.6,155.2 L85,139.2 L104.6,139.2 L104.6,170.5" fill="none" stroke="#000" stroke-width="1.1"/>
<clipPath id="cC181"><rect x="53.699999999999996" y="181.70000000000002" width="56.400000000000006" height="55.69999999999998"/></clipPath>
<rect x="53.4" y="181.4" width="57.00000000000001" height="56.29999999999998" fill="#fdfdfd" stroke="#a0a0a0" stroke-width="0.6"/>
<clipPath id="cG181"><rect x="79.0" y="182.0" width="30.400000000000006" height="14.400000000000006"/></clipPath>
<defs><linearGradient id="lgcG181" x1="0" x2="1" y1="0" y2="0"><stop offset="0" stop-color="#dadada"/><stop offset="0.45" stop-color="#b0b0b0"/><stop offset="0.75" stop-color="#7a7a7a"/><stop offset="0.86" stop-color="#2a2a2a"/><stop offset="0.92" stop-color="#333"/><stop offset="1" stop-color="#b0b0b0"/></linearGradient></defs>
<rect x="79.0" y="182.0" width="30.400000000000006" height="14.400000000000006" fill="url(#lgcG181)" stroke="none" stroke-width="1"/>
<path d="M54,209.4 C62,208.4 70,205.4 76,201.4 L80,199.4 L80,237.7 L54,237.7 Z" fill="#c4c4c4" clip-path="url(#cC181)"/>
<path d="M53.6,194.0 55.2,192.6 57.2,191.8 63.9,190.2 69.2,190.0 72.6,189.1 75.6,190.0 77.6,192.5 81.4,194.2 82.4,195.2 82.7,196.9 82.0,199.6 81.0,200.9 78.7,202.9 78.1,204.6 79.1,209.9 82.0,213.9 84.2,223.2 83.5,227.9 82.5,231.6 80.1,237.2 M53.6,194.7 56.6,192.6 63.2,190.8 66.2,190.3 69.2,190.5 72.2,189.7 74.2,190.3 76.9,193.1 80.6,194.6 81.7,195.6 82.0,197.2 81.5,199.2 80.6,200.6 78.0,202.9 77.5,204.6 78.7,209.9 81.6,214.2 83.8,223.2 82.1,231.6 79.7,237.2 M53.6,195.4 56.6,193.4 63.2,191.3 66.2,190.7 69.6,190.9 72.2,190.4 73.6,190.9 77.2,194.2 79.9,195.2 80.8,195.9 81.2,197.6 80.7,199.2 79.8,200.6 77.4,202.6 76.9,204.6 78.2,209.9 81.1,214.2 83.3,222.9 81.6,231.6 79.3,237.2 M53.6,196.0 56.6,194.2 63.2,191.8 66.2,191.2 71.6,191.2 72.9,191.6 77.2,195.1 79.4,195.9 80.1,196.6 80.4,197.9 80.0,199.2 76.9,202.1 76.3,204.2 76.5,206.2 77.7,209.9 80.8,214.6 82.8,222.6 81.9,225.6 81.9,227.9 81.3,231.2 78.9,237.2 M53.6,196.6 60.2,193.4 66.9,191.8 72.2,192.3 79.2,196.9 79.5,197.9 79.2,199.2 76.1,202.2 75.9,205.9 77.3,210.2 80.2,214.2 82.4,222.6 81.4,225.6 81.4,227.9 80.8,231.2 78.5,237.2 M53.6,197.4 54.6,196.6 60.6,193.9 67.9,192.6 70.9,192.8 74.2,194.1 78.4,197.6 78.2,199.1 76.2,201.0 75.5,202.2 75.3,206.6 76.8,210.6 79.6,214.2 81.9,222.2 80.9,225.3 80.9,228.2 80.4,230.9 78.1,237.2 M53.6,198.7 54.6,197.4 60.2,194.7 62.2,194.3 65.2,194.6 69.2,193.4 70.9,193.7 74.2,195.0 77.2,197.8 77.2,198.9 75.5,200.9 74.8,202.6 74.8,207.6 76.2,211.0 79.1,214.2 80.7,218.6 81.4,221.9 80.5,225.2 80.0,230.6 78.8,234.9 77.7,237.2 M53.6,202.5 53.6,200.1 M68.2,237.2 67.2,236.8 66.4,237.2 M53.6,204.2 54.3,201.6 54.6,198.6 57.6,197.3 60.2,195.5 61.6,195.3 64.2,195.8 70.2,194.4 73.9,196.2 75.7,197.9 75.9,198.9 74.6,201.3 73.8,203.9 74.1,207.9 75.6,211.2 78.7,214.6 80.4,219.2 80.9,221.9 80.1,225.2 79.8,229.6 78.5,234.6 77.2,237.2 M69.0,237.2 67.2,236.2 65.7,237.2 M53.6,206.0 55.6,199.8 57.9,198.6 60.2,196.5 63.2,197.0 65.6,196.6 67.2,196.7 69.2,195.5 70.2,195.3 71.6,195.9 73.8,198.2 74.2,199.9 72.4,204.2 72.5,205.2 73.6,208.9 74.8,211.2 78.2,214.9 80.3,221.6 79.5,228.9 78.1,234.2 76.6,237.2 M69.7,237.2 68.2,235.8 67.2,235.6 65.0,237.2 M53.6,207.1 54.9,202.9 55.9,201.1 60.6,198.3 64.6,198.6 67.2,198.3 70.2,196.5 71.2,196.9 72.1,197.9 73.0,199.6 73.0,200.9 72.3,202.2 70.8,203.9 70.6,205.2 72.2,207.2 74.4,211.6 77.6,214.9 79.7,221.9 79.0,228.9 77.6,234.2 75.9,237.2 M66.8,204.6 67.3,203.9 66.9,203.0 65.9,202.3 64.9,202.3 64.6,203.2 65.1,204.2 65.9,204.8 66.8,204.6 M70.6,237.2 68.6,235.3 67.2,234.9 64.2,237.2 M69.9,202.3 68.2,202.1 66.7,200.6 67.2,199.7 70.2,198.2 71.2,198.8 71.8,200.2 71.2,201.5 69.9,202.3 M53.6,208.8 54.6,206.2 55.2,203.3 56.2,201.8 60.2,200.2 61.9,200.2 62.9,200.9 63.3,203.2 64.7,205.2 65.9,205.8 68.2,205.4 69.2,205.8 71.3,207.9 74.3,212.2 76.8,214.6 79.1,221.9 78.9,227.6 77.2,233.6 76.1,235.9 75.0,237.2 M71.8,237.2 68.6,234.5 67.2,234.0 63.3,237.2 M53.6,211.6 55.9,203.2 57.2,202.3 60.6,201.7 64.2,206.3 65.2,206.6 67.9,206.6 69.0,207.2 76.1,214.6 76.9,215.9 77.4,219.2 78.6,222.6 78.4,227.6 76.9,232.6 75.2,235.8 74.2,236.7 72.9,236.8 71.6,236.1 68.6,233.3 67.2,233.0 66.2,233.5 64.5,235.6 62.4,237.2 M53.9,237.2 53.6,236.9 M53.6,212.9 56.1,206.9 56.6,204.2 57.2,203.9 58.9,206.2 61.6,206.3 61.4,208.6 62.2,209.2 63.2,209.1 65.8,207.6 67.9,207.9 69.2,209.8 71.9,211.5 75.3,214.6 76.2,215.9 76.7,219.2 77.9,222.9 78.0,227.2 76.1,232.2 74.6,234.7 73.9,235.4 72.9,235.4 71.6,233.5 68.6,232.0 67.6,232.0 65.8,232.9 63.9,235.4 61.3,237.2 M54.9,237.2 53.6,236.1 M58.4,237.2 57.0,237.2 M53.6,218.1 54.2,216.6 53.9,214.2 54.1,212.9 55.6,210.1 56.6,209.1 57.6,209.1 60.6,210.5 63.9,211.1 65.6,212.0 69.2,211.6 70.6,211.8 75.2,215.6 75.7,218.9 77.2,222.9 77.5,226.9 76.9,228.7 74.6,231.2 71.8,230.6 70.2,228.4 69.6,228.2 68.5,230.2 65.1,232.6 63.1,235.2 60.9,236.7 55.6,236.8 54.6,236.3 53.6,235.1 M53.6,224.3 53.6,223.3 M53.6,219.3 55.1,216.9 54.5,214.2 54.7,212.9 56.6,210.5 57.9,210.4 60.6,211.9 64.6,213.2 68.6,212.4 69.9,212.6 71.1,213.2 72.5,214.9 73.2,217.6 75.6,220.9 76.3,222.9 76.9,226.9 75.9,228.7 73.9,229.5 72.6,229.0 70.6,226.7 68.9,226.6 68.2,227.3 66.9,230.2 63.9,232.6 62.2,235.2 60.6,236.2 55.2,236.0 53.6,233.7 M53.6,226.2 54.3,223.9 53.6,221.5 M66.0,225.6 66.5,224.9 66.5,223.9 65.9,223.1 65.2,223.0 64.6,224.1 64.4,225.2 65.2,225.8 66.0,225.6 M53.6,230.7 53.6,228.3 M60.2,235.6 55.6,235.3 54.6,234.2 54.0,232.6 54.3,226.9 55.2,224.6 54.0,220.2 54.6,219.0 56.4,217.9 55.3,213.6 55.9,212.2 57.2,211.3 59.0,212.2 61.3,215.6 62.9,216.3 63.9,216.1 64.9,214.6 67.6,213.4 68.9,213.1 70.2,213.7 71.0,214.9 71.6,217.5 72.9,219.7 74.9,221.9 76.0,226.6 75.2,228.0 74.2,228.2 73.4,227.9 71.2,225.4 68.2,224.4 65.6,219.8 64.9,219.2 64.2,219.2 63.1,220.9 63.7,222.9 63.2,225.9 63.9,226.8 65.8,227.9 66.0,229.2 63.2,232.2 62.0,234.6 60.2,235.6 M60.2,234.9 56.2,234.2 55.5,233.6 55.1,232.2 55.2,227.7 57.8,226.2 55.4,222.9 54.7,220.9 55.2,219.7 57.6,219.0 58.2,218.2 58.1,217.2 56.3,213.9 56.6,212.9 57.2,212.6 58.2,213.2 59.6,216.2 61.9,217.4 62.7,218.2 61.4,221.2 62.5,223.2 62.0,225.9 64.1,228.9 64.0,229.9 61.6,233.9 60.2,234.9 M69.9,222.7 68.9,222.2 66.9,219.2 67.2,216.9 66.9,215.2 67.6,214.4 68.6,214.0 69.9,214.7 70.1,216.9 71.2,219.2 71.0,220.6 69.9,222.7" fill="none" stroke="#808080" stroke-width="0.4" clip-path="url(#cC181)"/>
<path d="M54,209.4 C62,208.4 70,205.4 76,201.4 L81,198.4" fill="none" stroke="#fff" stroke-width="1.2" clip-path="url(#cC181)"/>
<rect x="53.7" y="209.4" width="2.0" height="27.299999999999983" fill="#111" stroke="none" stroke-width="1"/>
<rect x="54" y="234.89999999999998" width="26" height="2.4" fill="#111" stroke="none" stroke-width="1"/>
<path d="M79.2,185.8 83.1,182.2 M82.1,196.2 79.2,194.4 M102.6,196.2 101.8,195.6 100.8,195.4 99.3,196.2 M79.2,186.2 83.2,182.8 85.0,182.2 M108.7,182.2 109.2,183.1 M84.7,196.2 81.5,195.6 79.2,193.9 M102.9,196.2 102.2,195.2 101.2,194.9 100.0,195.2 98.8,196.2 M109.2,195.1 108.8,196.2 M94.7,196.2 93.2,196.2 M79.2,186.7 82.6,184.5 84.2,183.0 86.4,182.2 M108.4,182.2 109.2,183.7 M85.9,196.2 81.5,195.1 79.2,193.2 M103.2,196.2 102.5,194.9 101.5,194.3 99.8,194.7 98.1,196.2 M109.2,194.4 108.5,196.2 M95.6,196.2 93.8,195.6 91.9,196.2 M79.2,187.5 80.5,186.2 83.2,184.9 85.0,183.2 87.7,182.2 M98.0,182.2 99.2,182.6 101.6,182.2 M108.1,182.2 109.2,184.6 M79.2,190.8 79.2,189.4 M103.5,196.2 102.5,194.1 101.8,193.7 99.6,194.2 98.3,195.5 97.2,195.9 93.8,195.2 90.8,195.9 87.2,196.0 81.2,194.4 79.8,193.2 79.2,191.4 M109.2,193.5 108.2,196.2 M103.7,196.2 102.8,193.7 102.2,193.1 99.5,193.5 97.2,195.4 93.8,194.7 87.8,195.6 83.5,194.7 80.5,193.1 79.8,191.5 79.9,189.8 79.6,188.5 80.2,187.1 83.2,185.8 85.8,183.3 88.8,182.4 91.6,182.2 M97.3,182.2 99.2,183.3 102.5,182.2 M107.8,182.2 108.8,184.2 109.2,187.6 M109.2,192.6 107.9,196.2 M104.0,196.2 103.1,193.2 102.5,192.4 98.8,193.2 96.8,194.7 93.8,194.3 91.5,194.7 85.8,194.9 83.5,194.2 80.9,192.5 80.4,191.5 80.5,187.8 81.2,187.2 83.5,186.4 86.2,183.7 89.5,183.0 94.5,182.9 96.2,182.3 99.2,184.0 101.8,183.3 103.1,182.2 M107.5,182.2 108.6,184.5 109.2,188.6 M109.2,191.5 107.6,196.2 M104.3,196.2 103.4,192.5 102.5,190.9 101.3,191.8 98.8,192.5 96.5,193.9 93.5,193.7 91.5,194.2 85.8,194.5 83.8,193.9 81.5,192.1 81.0,191.2 81.2,188.2 84.1,186.8 86.2,184.5 88.2,184.6 89.8,184.0 91.5,184.2 93.2,183.7 94.8,184.0 96.2,183.1 98.8,184.8 100.5,184.3 102.2,184.4 103.6,182.2 M107.2,182.2 108.2,184.5 109.1,189.8 108.4,193.5 107.3,196.2 M104.6,196.2 104.0,194.5 103.8,191.8 102.5,188.5 102.6,186.2 104.1,182.2 M106.9,182.2 107.9,184.8 108.8,189.8 108.2,193.2 106.9,196.2 M86.2,193.9 84.5,193.7 81.9,191.5 81.6,189.8 82.0,188.5 83.8,187.9 86.2,186.3 87.8,186.3 89.8,185.0 91.5,184.9 93.2,184.4 94.8,184.9 96.8,184.3 99.2,185.9 100.5,186.2 101.7,189.2 101.5,190.5 100.8,191.2 96.5,193.1 93.2,193.0 91.2,193.5 87.5,193.4 86.2,193.9 M105.2,196.2 104.5,194.8 104.4,192.2 103.1,188.2 103.2,186.2 104.6,182.2 M106.5,182.2 107.7,185.5 108.5,189.8 107.8,193.5 106.3,196.2 M85.8,193.3 84.3,192.8 82.5,190.8 82.5,189.6 86.5,187.4 88.5,187.0 90.2,185.7 91.8,185.7 93.2,185.2 94.8,185.6 97.2,185.3 98.3,186.5 98.5,188.0 100.2,188.3 100.9,189.5 100.8,190.2 100.2,190.8 96.8,192.1 92.8,192.1 91.2,192.7 87.5,192.3 85.8,193.3 M105.6,182.2 106.2,182.6 107.4,185.5 108.2,189.5 107.5,193.2 106.5,195.1 105.8,195.6 105.0,194.8 104.9,192.2 103.5,188.2 103.8,185.8 105.5,182.2 M85.5,191.9 84.8,191.3 84.6,190.2 85.2,189.2 86.5,188.2 89.2,188.0 90.5,186.7 94.5,186.7 96.5,186.2 97.4,186.8 97.0,187.8 95.5,188.6 93.8,190.3 92.5,190.5 90.5,188.9 89.8,188.8 88.8,191.3 86.8,191.3 85.5,191.9 M98.5,190.5 97.5,190.4 97.3,189.8 98.5,189.4 99.7,189.5 99.6,190.2 98.5,190.5 M105.8,194.2 104.0,187.5 104.4,185.5 105.8,184.5 107.1,185.8 107.8,189.5 107.2,192.6 106.5,193.8 105.8,194.2 M92.8,188.9 92.2,188.6 92.1,188.2 92.8,187.9 93.3,188.2 93.4,188.5 92.8,188.9 M87.5,189.5 87.5,189.5 M106.5,191.4 105.8,190.9 104.5,188.2 104.6,186.2 105.5,185.3 106.5,185.6 107.1,187.2 107.2,189.6 106.5,191.4" fill="none" stroke="#3a3a3a" stroke-width="0.4" clip-path="url(#cG181)"/>
<g fill="#bdbdbd" opacity="1" clip-path="url(#cC181)"><circle cx="99.9" cy="229.9" r="0.35"/><circle cx="93.7" cy="211.9" r="0.35"/><circle cx="84.0" cy="224.8" r="0.35"/><circle cx="93.4" cy="227.9" r="0.35"/><circle cx="91.5" cy="228.3" r="0.35"/><circle cx="89.5" cy="229.3" r="0.35"/><circle cx="98.6" cy="216.8" r="0.35"/><circle cx="94.8" cy="225.4" r="0.35"/><circle cx="87.9" cy="221.3" r="0.35"/><circle cx="100.1" cy="212.0" r="0.35"/><circle cx="100.1" cy="225.5" r="0.35"/><circle cx="100.9" cy="214.2" r="0.35"/><circle cx="85.9" cy="229.2" r="0.35"/><circle cx="100.1" cy="217.8" r="0.35"/><circle cx="85.9" cy="209.8" r="0.35"/><circle cx="96.7" cy="212.8" r="0.35"/><circle cx="103.0" cy="222.4" r="0.35"/><circle cx="88.0" cy="224.6" r="0.35"/><circle cx="91.2" cy="233.5" r="0.35"/><circle cx="102.2" cy="220.0" r="0.35"/><circle cx="96.9" cy="225.9" r="0.35"/><circle cx="100.1" cy="234.9" r="0.35"/><circle cx="84.6" cy="215.1" r="0.35"/><circle cx="96.0" cy="213.2" r="0.35"/><circle cx="95.8" cy="206.3" r="0.35"/><circle cx="101.6" cy="220.4" r="0.35"/><circle cx="86.3" cy="224.8" r="0.35"/><circle cx="90.2" cy="209.7" r="0.35"/><circle cx="93.7" cy="207.9" r="0.35"/><circle cx="88.2" cy="231.4" r="0.35"/><circle cx="98.0" cy="203.8" r="0.35"/><circle cx="99.6" cy="204.0" r="0.35"/><circle cx="90.7" cy="232.6" r="0.35"/><circle cx="96.4" cy="213.3" r="0.35"/><circle cx="91.5" cy="216.0" r="0.35"/><circle cx="86.5" cy="235.7" r="0.35"/><circle cx="85.1" cy="217.1" r="0.35"/><circle cx="98.9" cy="216.2" r="0.35"/><circle cx="103.6" cy="211.3" r="0.35"/><circle cx="103.6" cy="232.2" r="0.35"/><circle cx="97.4" cy="232.1" r="0.35"/><circle cx="92.9" cy="230.2" r="0.35"/><circle cx="99.9" cy="220.1" r="0.35"/><circle cx="93.4" cy="226.2" r="0.35"/><circle cx="92.2" cy="206.2" r="0.35"/><circle cx="98.9" cy="212.0" r="0.35"/><circle cx="93.8" cy="228.7" r="0.35"/><circle cx="87.4" cy="204.1" r="0.35"/><circle cx="86.5" cy="222.4" r="0.35"/><circle cx="91.2" cy="211.7" r="0.35"/><circle cx="93.0" cy="233.4" r="0.35"/><circle cx="89.1" cy="216.7" r="0.35"/><circle cx="101.6" cy="223.2" r="0.35"/><circle cx="89.4" cy="218.7" r="0.35"/><circle cx="93.6" cy="208.0" r="0.35"/><circle cx="91.5" cy="213.3" r="0.35"/><circle cx="100.1" cy="213.8" r="0.35"/><circle cx="97.2" cy="234.8" r="0.35"/><circle cx="102.5" cy="215.5" r="0.35"/><circle cx="96.1" cy="213.7" r="0.35"/><circle cx="92.0" cy="219.2" r="0.35"/><circle cx="99.9" cy="233.7" r="0.35"/><circle cx="89.8" cy="203.6" r="0.35"/><circle cx="93.0" cy="205.2" r="0.35"/><circle cx="84.6" cy="228.4" r="0.35"/><circle cx="86.2" cy="226.6" r="0.35"/><circle cx="91.2" cy="233.7" r="0.35"/><circle cx="101.1" cy="205.4" r="0.35"/><circle cx="87.9" cy="234.0" r="0.35"/><circle cx="96.3" cy="217.0" r="0.35"/></g>
<g fill="#333" opacity="1" clip-path="url(#cG181)"><circle cx="95.2" cy="195.9" r="0.35"/><circle cx="93.3" cy="192.1" r="0.35"/><circle cx="92.6" cy="185.6" r="0.35"/><circle cx="109.4" cy="185.0" r="0.35"/><circle cx="102.8" cy="188.6" r="0.35"/><circle cx="99.3" cy="189.1" r="0.35"/><circle cx="94.5" cy="194.0" r="0.35"/><circle cx="92.6" cy="185.4" r="0.35"/><circle cx="91.4" cy="185.8" r="0.35"/><circle cx="98.5" cy="195.0" r="0.35"/><circle cx="98.0" cy="183.6" r="0.35"/><circle cx="95.8" cy="196.3" r="0.35"/><circle cx="92.2" cy="190.9" r="0.35"/><circle cx="97.9" cy="191.5" r="0.35"/><circle cx="97.2" cy="192.0" r="0.35"/><circle cx="100.2" cy="191.4" r="0.35"/><circle cx="107.6" cy="190.4" r="0.35"/><circle cx="93.6" cy="182.9" r="0.35"/><circle cx="108.4" cy="189.0" r="0.35"/><circle cx="94.6" cy="195.6" r="0.35"/><circle cx="101.7" cy="192.5" r="0.35"/><circle cx="107.2" cy="186.1" r="0.35"/><circle cx="97.6" cy="194.6" r="0.35"/><circle cx="93.5" cy="193.0" r="0.35"/><circle cx="92.8" cy="191.9" r="0.35"/><circle cx="103.9" cy="195.7" r="0.35"/><circle cx="106.5" cy="189.3" r="0.35"/><circle cx="94.6" cy="184.2" r="0.35"/><circle cx="100.7" cy="189.3" r="0.35"/><circle cx="92.3" cy="195.0" r="0.35"/><circle cx="100.3" cy="192.1" r="0.35"/><circle cx="95.0" cy="185.5" r="0.35"/><circle cx="91.2" cy="186.9" r="0.35"/><circle cx="95.9" cy="188.1" r="0.35"/><circle cx="97.9" cy="194.0" r="0.35"/><circle cx="107.4" cy="184.5" r="0.35"/><circle cx="98.3" cy="184.4" r="0.35"/><circle cx="103.2" cy="196.0" r="0.35"/><circle cx="94.7" cy="193.0" r="0.35"/><circle cx="96.5" cy="182.2" r="0.35"/></g>
<rect x="79.0" y="182.0" width="30.400000000000006" height="14.400000000000006" fill="none" stroke="#000" stroke-width="1.2"/>
<path d="M79.6,237.7 L80.6,217.9 L85,201.9 L104.6,201.9 L104.6,229.2" fill="none" stroke="#000" stroke-width="1.1"/>
<text x="82.3" y="131.3" font-size="9.6" font-family="'Liberation Sans', Arial, sans-serif" fill="#000" stroke="#000" stroke-width="0.35" textLength="7.3" lengthAdjust="spacingAndGlyphs">G</text>
<text x="82.3" y="171.4" font-size="9.6" font-family="'Liberation Sans', Arial, sans-serif" fill="#000" stroke="#000" stroke-width="0.35" textLength="9.4" lengthAdjust="spacingAndGlyphs">M</text>
<text x="65.0" y="129.6" font-size="6.9" font-family="'Liberation Sans', Arial, sans-serif" fill="#000" stroke="#000" stroke-width="0.3" textLength="12.3" lengthAdjust="spacingAndGlyphs">63.2</text>
<text x="98.1" y="173.8" font-size="6.9" font-family="'Liberation Sans', Arial, sans-serif" fill="#000" stroke="#000" stroke-width="0.3" textLength="10.8" lengthAdjust="spacingAndGlyphs">1.52</text>
<text x="64.5" y="192.6" font-size="6.9" font-family="'Liberation Sans', Arial, sans-serif" fill="#000" stroke="#000" stroke-width="0.3" textLength="12.8" lengthAdjust="spacingAndGlyphs">41.5</text>
<text x="97.8" y="236.5" font-size="6.9" font-family="'Liberation Sans', Arial, sans-serif" fill="#000" stroke="#000" stroke-width="0.3" textLength="11.1" lengthAdjust="spacingAndGlyphs">1.59</text>
<line x1="44.7" y1="234" x2="44.7" y2="247.6" stroke="#000" stroke-width="1.1"/>
<line x1="44.2" y1="247.6" x2="57.5" y2="247.6" stroke="#000" stroke-width="1.1"/>
<path d="M44.6,229.4 L41.4,235.4 L47.8,235.4 Z" fill="#000"/>
<path d="M62.7,247.6 L56.6,244.6 L56.6,250.6 Z" fill="#000"/>
<text x="48.1" y="226" font-size="7.8" font-family="'Liberation Sans', Arial, sans-serif" fill="#000" stroke="#000" stroke-width="0.15" font-weight="bold" textLength="10.9" lengthAdjust="spacingAndGlyphs" transform="rotate(-90 48.1 226)">Gr1</text>
<text x="64.6" y="251.9" font-size="8.0" font-family="'Liberation Sans', Arial, sans-serif" fill="#000" stroke="#000" stroke-width="0.15" font-weight="bold" textLength="19.2" lengthAdjust="spacingAndGlyphs">Mac1</text>
<rect x="183.0" y="147.2" width="28.100000000000012" height="70.80000000000001" fill="#e3e3e3" stroke="none" stroke-width="1"/>
<line x1="183.0" y1="146.2" x2="183.0" y2="219.6" stroke="#000" stroke-width="1.0" stroke-dasharray="0.9,0.9"/>
<rect x="153.4" y="146.2" width="59.400000000000006" height="73.4" fill="none" stroke="#000" stroke-width="1.2"/>
<line x1="150.4" y1="146.2" x2="153.4" y2="146.2" stroke="#000" stroke-width="1"/>
<text x="150.1" y="148.2" font-size="5.5" font-family="'Liberation Sans', Arial, sans-serif" fill="#000" stroke="#000" stroke-width="0.35" text-anchor="end" letter-spacing="0.3">50</text>
<line x1="150.4" y1="160.88" x2="153.4" y2="160.88" stroke="#000" stroke-width="1"/>
<text x="150.1" y="162.88" font-size="5.5" font-family="'Liberation Sans', Arial, sans-serif" fill="#000" stroke="#000" stroke-width="0.35" text-anchor="end" letter-spacing="0.3">40</text>
<line x1="150.4" y1="175.56" x2="153.4" y2="175.56" stroke="#000" stroke-width="1"/>
<text x="150.1" y="177.56" font-size="5.5" font-family="'Liberation Sans', Arial, sans-serif" fill="#000" stroke="#000" stroke-width="0.35" text-anchor="end" letter-spacing="0.3">30</text>
<line x1="150.4" y1="190.23999999999998" x2="153.4" y2="190.23999999999998" stroke="#000" stroke-width="1"/>
<text x="150.1" y="192.23999999999998" font-size="5.5" font-family="'Liberation Sans', Arial, sans-serif" fill="#000" stroke="#000" stroke-width="0.35" text-anchor="end" letter-spacing="0.3">20</text>
<line x1="150.4" y1="204.92" x2="153.4" y2="204.92" stroke="#000" stroke-width="1"/>
<text x="150.1" y="206.92" font-size="5.5" font-family="'Liberation Sans', Arial, sans-serif" fill="#000" stroke="#000" stroke-width="0.35" text-anchor="end" letter-spacing="0.3">10</text>
<line x1="150.4" y1="219.6" x2="153.4" y2="219.6" stroke="#000" stroke-width="1"/>
<text x="150.1" y="221.6" font-size="5.5" font-family="'Liberation Sans', Arial, sans-serif" fill="#000" stroke="#000" stroke-width="0.35" text-anchor="end" letter-spacing="0.3">0</text>
<text x="161.9" y="129.9" font-size="8.0" font-family="'Liberation Sans', Arial, sans-serif" fill="#000" stroke="#000" stroke-width="0.25" textLength="43.1" lengthAdjust="spacingAndGlyphs">Myeloid cells</text>
<text x="172.5" y="139.0" font-size="8.0" font-family="'Liberation Sans', Arial, sans-serif" fill="#000" stroke="#000" stroke-width="0.25" textLength="20.6" lengthAdjust="spacingAndGlyphs">(G+M)</text>
<text x="137.9" y="171.5" font-size="7.6" font-family="'Liberation Sans', Arial, sans-serif" fill="#000" stroke="#000" stroke-width="0.3" text-anchor="middle" textLength="65" lengthAdjust="spacingAndGlyphs" transform="rotate(-90 137.9 171.5)">Cells per femur (10e6)</text>
<text x="170.4" y="232.0" font-size="7.4" font-family="'Liberation Sans', Arial, sans-serif" fill="#000" stroke="#000" stroke-width="0.25" font-weight="bold" text-anchor="middle" textLength="21.2" lengthAdjust="spacingAndGlyphs">2-3mo</text>
<text x="198.1" y="232.0" font-size="7.4" font-family="'Liberation Sans', Arial, sans-serif" fill="#000" stroke="#000" stroke-width="0.25" font-weight="bold" text-anchor="middle" textLength="18.7" lengthAdjust="spacingAndGlyphs">12mo</text>
<circle cx="158.1" cy="178" r="1.9" fill="#fff" stroke="#000" stroke-width="1.1"/>
<circle cx="164.3" cy="182.2" r="1.9" fill="#fff" stroke="#000" stroke-width="1.1"/>
<circle cx="158.1" cy="188.8" r="1.9" fill="#fff" stroke="#000" stroke-width="1.1"/>
<circle cx="161" cy="190.2" r="1.9" fill="#fff" stroke="#000" stroke-width="1.1"/>
<circle cx="164.3" cy="190.7" r="1.9" fill="#fff" stroke="#000" stroke-width="1.1"/>
<circle cx="158.5" cy="194.5" r="1.9" fill="#fff" stroke="#000" stroke-width="1.1"/>
<circle cx="161.5" cy="196.2" r="1.9" fill="#fff" stroke="#000" stroke-width="1.1"/>
<circle cx="164.3" cy="198.8" r="1.9" fill="#fff" stroke="#000" stroke-width="1.1"/>
<circle cx="158.1" cy="200.6" r="1.9" fill="#fff" stroke="#000" stroke-width="1.1"/>
<circle cx="163.4" cy="201.5" r="1.9" fill="#fff" stroke="#000" stroke-width="1.1"/>
<circle cx="158.1" cy="206.8" r="1.9" fill="#fff" stroke="#000" stroke-width="1.1"/>
<circle cx="161.5" cy="208.7" r="1.9" fill="#fff" stroke="#000" stroke-width="1.1"/>
<circle cx="164.3" cy="206.8" r="1.9" fill="#fff" stroke="#000" stroke-width="1.1"/>
<line x1="155.5" y1="197.3" x2="167" y2="197.3" stroke="#000" stroke-width="1"/>
<circle cx="173.4" cy="199.9" r="1.9" fill="#7a7a7a" stroke="#000" stroke-width="1.1"/>
<circle cx="178.5" cy="199.9" r="1.9" fill="#7a7a7a" stroke="#000" stroke-width="1.1"/>
<circle cx="173.4" cy="203.1" r="1.9" fill="#7a7a7a" stroke="#000" stroke-width="1.1"/>
<circle cx="176.6" cy="202.4" r="1.9" fill="#7a7a7a" stroke="#000" stroke-width="1.1"/>
<circle cx="179.1" cy="203.7" r="1.9" fill="#7a7a7a" stroke="#000" stroke-width="1.1"/>
<circle cx="173.4" cy="206.3" r="1.9" fill="#7a7a7a" stroke="#000" stroke-width="1.1"/>
<circle cx="176.6" cy="206.3" r="1.9" fill="#7a7a7a" stroke="#000" stroke-width="1.1"/>
<circle cx="179.1" cy="206.9" r="1.9" fill="#7a7a7a" stroke="#000" stroke-width="1.1"/>
<circle cx="173.4" cy="209.4" r="1.9" fill="#7a7a7a" stroke="#000" stroke-width="1.1"/>
<circle cx="177.2" cy="208.8" r="1.9" fill="#7a7a7a" stroke="#000" stroke-width="1.1"/>
<circle cx="179.1" cy="210.1" r="1.9" fill="#7a7a7a" stroke="#000" stroke-width="1.1"/>
<circle cx="176" cy="212.6" r="1.9" fill="#7a7a7a" stroke="#000" stroke-width="1.1"/>
<line x1="170.5" y1="206.3" x2="181.5" y2="206.3" stroke="#000" stroke-width="1"/>
<circle cx="175.70" cy="185.2" r="1.4" fill="#000"/>
<circle cx="190.8" cy="160.7" r="1.9" fill="#fff" stroke="#000" stroke-width="1.1"/>
<circle cx="188.8" cy="172.4" r="1.9" fill="#fff" stroke="#000" stroke-width="1.1"/>
<circle cx="191.8" cy="173.4" r="1.9" fill="#fff" stroke="#000" stroke-width="1.1"/>
<circle cx="194.1" cy="175" r="1.9" fill="#fff" stroke="#000" stroke-width="1.1"/>
<circle cx="190.8" cy="174.4" r="1.9" fill="#fff" stroke="#000" stroke-width="1.1"/>
<circle cx="188.2" cy="180.8" r="1.9" fill="#fff" stroke="#000" stroke-width="1.1"/>
<line x1="186" y1="174" x2="196" y2="174" stroke="#000" stroke-width="1"/>
<circle cx="205.4" cy="187.1" r="1.9" fill="#7a7a7a" stroke="#000" stroke-width="1.1"/>
<circle cx="202.5" cy="196.8" r="1.9" fill="#7a7a7a" stroke="#000" stroke-width="1.1"/>
<circle cx="206.4" cy="195.9" r="1.9" fill="#7a7a7a" stroke="#000" stroke-width="1.1"/>
<circle cx="208.3" cy="196.4" r="1.9" fill="#7a7a7a" stroke="#000" stroke-width="1.1"/>
<circle cx="204.4" cy="197.8" r="1.9" fill="#7a7a7a" stroke="#000" stroke-width="1.1"/>
<circle cx="205.4" cy="206.2" r="1.9" fill="#7a7a7a" stroke="#000" stroke-width="1.1"/>
<line x1="200.5" y1="196.5" x2="210.5" y2="196.5" stroke="#000" stroke-width="1"/>
<circle cx="201.90" cy="173" r="1.4" fill="#000"/>
<circle cx="205.70" cy="173" r="1.4" fill="#000"/>
<circle cx="209.50" cy="173" r="1.4" fill="#000"/>
<text x="241.5" y="126.8" font-size="12" font-family="'Liberation Sans', Arial, sans-serif" fill="#000" stroke="#000" stroke-width="0.25" font-weight="bold">D</text>
<text x="258.4" y="130.0" font-size="8.1" font-family="'Liberation Sans', Arial, sans-serif" fill="#000" stroke="#000" stroke-width="0.15" font-weight="bold" textLength="10.7" lengthAdjust="spacingAndGlyphs">WT</text>
<text x="244.1" y="191.2" font-size="7.6" font-family="'Liberation Sans', Arial, sans-serif" fill="#000" stroke="#000" stroke-width="0.15" font-weight="bold" textLength="33.2" lengthAdjust="spacingAndGlyphs">CD41-KO</text>
<clipPath id="cD118"><rect x="280.3" y="118.39999999999999" width="55.20000000000001" height="56.4"/></clipPath>
<rect x="280.0" y="118.1" width="55.80000000000001" height="57.0" fill="#fdfdfd" stroke="#a0a0a0" stroke-width="0.6"/>
<rect x="280.6" y="148.0" width="22.0" height="26.799999999999994" fill="#b2b2b2" stroke="none" stroke-width="1"/>
<rect x="280.6" y="128.7" width="21.9" height="18.700000000000017" fill="#a8a8a8" stroke="none" stroke-width="1"/>
<clipPath id="cD118b"><rect x="280.3" y="128.7" width="23.19999999999999" height="46.10000000000001"/><rect x="302.5" y="124.4" width="26.399999999999977" height="23.0"/></clipPath>
<path d="M280.2,126.1 283.8,124.7 292.5,124.3 298.2,125.1 302.8,126.4 307.8,127.0 319.2,126.3 325.8,126.4 331.2,127.1 333.6,128.3 333.8,128.9 333.3,129.9 330.5,131.9 325.8,136.8 314.5,144.8 307.9,148.6 306.5,149.9 306.2,150.9 306.7,154.3 306.5,156.9 307.6,161.6 306.7,166.3 307.9,173.6 307.2,174.9 M310.5,138.6 318.0,134.6 320.5,132.6 319.5,132.3 315.2,132.6 312.1,133.6 310.9,134.6 308.6,137.6 309.2,138.8 310.5,138.6 M280.2,126.5 283.8,125.1 292.5,124.7 297.8,125.4 303.2,126.8 308.5,127.3 319.5,126.5 326.5,126.7 331.5,127.5 333.2,128.6 332.8,129.9 330.2,131.7 325.5,136.8 314.8,144.4 307.9,148.3 306.1,149.9 305.7,151.3 305.7,156.9 306.9,161.3 305.8,166.6 307.2,173.3 306.9,174.3 306.0,174.9 M309.9,139.3 318.4,134.6 320.8,132.9 321.1,132.3 320.2,132.0 315.2,132.4 311.3,133.6 307.8,137.6 308.3,139.3 309.9,139.3 M280.2,127.0 284.2,125.4 292.5,125.1 297.8,125.7 303.8,127.3 309.2,127.5 319.2,126.7 325.8,126.9 330.5,127.6 332.5,128.6 332.6,129.3 332.2,129.9 329.8,131.5 325.2,136.9 314.5,144.4 307.4,148.3 305.6,149.9 305.2,151.3 304.9,156.6 306.0,160.9 305.1,163.9 305.0,166.6 306.4,172.9 306.1,173.9 304.8,174.9 M308.9,139.9 318.7,134.6 321.6,132.6 321.7,131.9 314.5,132.2 310.2,133.6 307.5,136.6 306.9,137.9 307.5,139.9 308.9,139.9 M280.2,127.4 284.2,125.7 292.2,125.5 297.5,126.0 304.2,127.7 309.5,127.8 319.5,126.9 326.2,127.2 330.2,128.0 331.8,128.9 331.7,129.6 329.3,131.3 326.8,134.9 324.8,136.9 314.8,144.0 307.9,147.6 305.2,149.9 304.2,154.6 304.2,157.6 304.9,160.6 304.3,164.3 304.5,168.3 305.6,172.6 305.3,173.6 304.0,174.9 M306.8,141.3 310.5,139.6 318.0,135.3 321.7,132.9 322.6,131.9 320.8,131.5 315.1,131.9 309.5,133.3 306.8,136.5 306.0,138.3 305.8,140.9 306.2,141.4 306.8,141.3 M280.2,127.8 284.2,126.1 291.5,125.9 297.5,126.4 300.5,127.4 303.8,128.0 309.5,128.0 320.5,127.2 326.8,127.6 330.6,128.9 330.5,129.6 328.8,130.9 326.7,134.6 324.8,136.6 314.8,143.7 307.8,147.3 304.8,149.6 303.9,152.6 303.6,155.9 304.1,160.6 303.7,163.3 304.0,168.3 304.9,172.3 304.7,173.3 303.4,174.9 M306.5,142.3 319.5,134.6 323.1,132.3 323.6,131.6 320.5,131.2 314.2,131.8 308.6,132.9 304.7,139.3 304.6,142.3 305.5,142.5 306.5,142.3 M280.2,128.3 284.2,126.5 290.2,126.3 297.2,126.8 300.2,127.9 303.8,128.5 320.2,127.4 326.5,127.9 328.9,128.9 328.9,129.6 327.4,131.3 326.5,134.3 324.8,136.3 314.5,143.7 307.8,146.9 304.5,149.4 303.5,152.2 303.2,155.3 303.5,160.3 303.2,163.6 303.5,168.9 304.2,172.3 302.9,174.9 M305.4,143.3 314.8,137.4 324.8,131.9 325.3,131.3 324.2,130.9 320.8,130.8 307.7,132.6 303.8,139.3 303.5,142.6 304.2,143.3 305.4,143.3 M280.2,142.9 280.7,141.6 280.2,140.4 M280.2,128.8 284.2,127.0 289.5,126.7 297.2,127.2 299.8,128.3 304.2,129.0 314.8,127.9 320.2,127.8 326.2,128.3 327.5,128.9 327.6,129.6 326.5,130.3 320.8,130.5 311.2,131.8 308.2,131.8 306.2,132.1 305.5,132.6 305.4,134.9 303.3,138.6 302.5,141.9 302.8,143.6 303.8,144.3 306.8,143.3 308.8,141.5 313.2,138.7 322.5,133.4 325.2,132.5 325.8,132.6 326.2,133.3 325.8,134.6 324.7,135.9 319.5,140.0 313.8,143.8 307.8,146.4 304.8,148.2 304.2,149.0 302.8,153.9 303.1,160.3 302.7,163.6 303.6,172.3 302.4,174.9 M280.2,144.0 281.3,141.6 280.2,139.3 M280.2,154.5 280.5,149.9 280.2,147.8 M280.2,129.4 284.2,127.5 289.8,127.1 297.2,127.8 299.8,128.9 304.0,129.9 304.3,130.6 303.9,132.3 304.3,135.3 302.4,138.6 301.4,141.9 302.2,144.3 303.2,145.4 307.2,143.8 309.3,141.6 312.5,139.5 321.8,134.1 324.2,133.2 325.4,133.6 325.1,134.9 323.9,136.3 315.2,142.7 312.8,144.0 308.2,145.5 303.9,148.3 302.4,154.3 302.8,159.9 302.3,163.6 303.1,171.9 302.0,174.9 M312.2,131.3 306.8,131.1 305.8,130.6 305.5,129.9 307.2,129.1 314.8,128.2 321.8,128.4 324.1,129.3 322.8,129.8 312.2,131.3 M280.2,156.6 280.8,153.3 281.0,149.6 280.4,145.3 281.8,141.6 281.2,139.6 280.2,138.3 M280.2,170.1 280.5,165.3 280.2,158.1 M280.2,130.1 284.2,128.2 289.8,127.6 293.8,128.3 296.8,128.3 299.5,129.5 302.2,130.1 302.8,130.6 303.0,135.9 301.2,138.8 299.2,140.1 298.8,140.9 300.6,143.3 303.0,147.9 302.0,154.3 302.4,159.9 301.7,163.6 302.3,166.3 302.6,172.3 301.6,174.9 M313.8,130.6 310.5,130.9 307.8,130.3 307.6,129.9 314.8,128.6 317.0,128.9 318.2,129.6 316.5,130.2 313.8,130.6 M310.5,144.3 308.9,144.3 308.5,143.6 309.2,142.3 310.4,141.3 314.5,138.5 321.8,134.5 323.5,133.9 324.5,134.2 324.4,134.9 323.6,135.9 319.5,139.3 313.8,143.2 310.5,144.3 M280.2,171.4 280.9,168.3 280.6,156.9 281.6,149.3 281.1,145.6 282.4,141.6 281.7,139.3 280.2,137.1 M280.8,174.9 280.2,173.8 M280.2,131.0 284.2,129.0 290.2,128.2 296.8,129.0 301.8,131.3 302.2,134.3 301.8,136.3 300.5,137.8 298.2,138.9 297.5,140.9 297.8,142.6 299.6,143.9 300.2,146.3 301.8,147.8 302.4,148.9 301.5,155.3 302.0,160.3 301.0,163.9 301.8,166.6 302.1,171.9 301.1,174.9 M314.5,129.6 314.5,129.6 M281.4,174.9 280.5,172.6 281.4,168.3 281.0,156.9 282.3,148.9 281.8,145.3 283.0,141.6 282.4,138.9 281.0,136.6 280.8,134.6 280.2,133.4 M311.5,143.6 310.0,143.6 309.6,142.9 311.9,140.6 319.2,136.3 322.2,134.9 323.2,134.9 322.5,136.3 319.4,138.9 314.2,142.6 311.5,143.6 M296.9,148.9 297.5,148.3 297.6,147.6 295.8,147.3 294.8,146.6 294.5,146.8 295.8,148.7 296.9,148.9 M282.0,174.9 281.1,172.3 281.9,167.9 281.5,156.9 282.5,151.6 283.5,148.8 284.2,148.4 286.2,149.6 287.6,146.9 286.8,146.0 283.8,146.4 283.0,145.6 283.7,141.6 283.3,138.6 281.9,136.3 280.9,131.9 281.8,130.9 283.5,130.1 285.5,129.8 288.5,130.0 290.8,129.0 297.2,129.9 300.5,131.8 301.2,132.9 301.2,134.9 300.6,136.3 299.8,137.0 297.8,137.4 297.1,137.9 296.3,139.3 295.8,142.9 293.2,145.2 292.9,147.6 294.5,150.6 294.2,151.0 292.5,150.8 291.8,151.1 291.4,153.3 291.6,153.9 293.5,154.7 296.0,158.6 296.1,160.3 295.0,164.3 295.3,165.6 296.5,166.4 299.5,165.1 300.5,165.6 301.0,166.3 301.7,171.9 300.6,174.9 M311.8,143.0 311.2,142.9 310.9,142.3 313.0,140.3 318.9,136.9 320.8,136.6 319.5,138.3 315.0,141.6 311.8,143.0 M299.5,163.7 298.8,163.5 298.2,162.6 297.8,158.9 298.8,152.9 298.6,150.3 299.6,148.9 300.8,148.6 301.5,149.1 301.7,149.9 300.9,155.3 301.7,159.9 300.8,162.3 299.5,163.7 M289.2,155.6 289.5,154.9 288.4,155.3 288.5,155.7 289.2,155.6 M297.3,170.9 297.7,169.9 297.6,168.6 296.8,167.4 296.2,167.2 294.8,168.3 294.6,169.3 296.2,171.0 296.8,171.3 297.3,170.9 M291.2,141.6 287.8,141.0 285.5,141.2 284.8,140.7 284.4,137.6 282.8,135.3 282.3,132.6 282.8,131.6 285.8,130.8 289.5,131.5 291.5,130.1 293.2,129.9 296.4,130.6 299.8,133.1 300.2,134.3 299.8,135.3 298.8,135.6 296.8,134.8 296.2,134.8 295.4,136.9 293.5,138.3 292.5,140.9 291.2,141.6 M313.5,141.7 312.8,141.6 313.2,140.9 314.7,139.9 315.6,139.9 314.8,140.9 313.5,141.7 M290.8,146.2 289.9,145.3 290.2,144.4 291.2,144.9 290.8,146.2 M289.2,152.7 288.0,152.3 288.8,150.6 289.5,150.9 289.8,151.6 289.7,152.3 289.2,152.7 M282.6,174.9 281.8,172.3 282.7,166.9 282.0,162.3 282.0,157.3 283.2,152.2 284.2,151.0 287.6,152.6 286.5,155.6 287.2,157.4 288.8,157.8 292.2,156.0 293.2,156.7 294.5,158.6 294.8,160.3 293.0,166.3 292.2,166.9 291.2,167.0 288.5,165.7 287.3,166.9 286.9,167.9 287.3,168.9 288.1,169.6 291.2,169.5 295.2,171.4 296.6,173.3 295.5,174.9 M299.8,162.0 299.1,161.6 298.8,159.6 299.1,157.9 299.8,157.0 300.8,157.9 301.2,159.6 300.8,160.9 299.8,162.0 M289.5,163.3 290.3,162.3 290.3,161.3 289.2,159.8 288.2,159.6 287.4,160.3 287.5,162.3 288.5,163.5 289.5,163.3 M298.6,174.9 297.5,173.9 297.3,173.3 298.7,169.9 298.9,167.6 299.5,166.9 300.4,167.6 301.2,171.6 300.9,173.3 299.8,174.9 M292.2,136.3 289.2,135.1 287.2,136.0 286.2,135.8 285.1,134.6 285.0,132.9 286.5,132.1 289.8,132.7 292.8,130.8 295.0,131.3 295.5,131.9 295.4,132.6 293.7,135.6 292.2,136.3 M290.5,139.6 289.6,138.9 290.8,138.5 291.1,139.3 290.5,139.6 M285.2,165.6 283.8,165.5 282.6,162.3 283.1,159.6 282.9,156.9 283.8,153.6 284.5,152.9 285.5,153.6 285.2,156.3 285.4,159.3 286.0,161.6 285.9,164.6 285.2,165.6 M283.4,174.9 282.5,171.9 283.4,168.9 284.2,168.1 285.2,168.4 287.5,170.5 290.8,170.5 294.5,171.9 295.4,173.3 294.6,174.9 M299.8,173.6 299.2,173.9 298.7,172.9 299.2,171.4 299.8,170.9 300.4,171.9 299.8,173.6 M289.2,174.9 287.0,174.9" fill="none" stroke="#555" stroke-width="0.45" clip-path="url(#cD118b)"/>
<g fill="#999" opacity="1" clip-path="url(#cD118)"><circle cx="307.8" cy="152.3" r="0.4"/><circle cx="306.7" cy="155.5" r="0.4"/><circle cx="307.9" cy="152.4" r="0.4"/><circle cx="307.4" cy="167.1" r="0.4"/><circle cx="307.3" cy="174.1" r="0.4"/><circle cx="304.2" cy="159.5" r="0.4"/><circle cx="306.5" cy="158.2" r="0.4"/><circle cx="304.3" cy="157.1" r="0.4"/><circle cx="307.3" cy="171.3" r="0.4"/><circle cx="307.0" cy="156.9" r="0.4"/><circle cx="307.6" cy="163.3" r="0.4"/><circle cx="304.2" cy="162.1" r="0.4"/><circle cx="305.1" cy="153.7" r="0.4"/><circle cx="305.8" cy="160.0" r="0.4"/><circle cx="305.8" cy="172.6" r="0.4"/><circle cx="306.2" cy="161.0" r="0.4"/><circle cx="307.3" cy="174.0" r="0.4"/><circle cx="305.5" cy="172.9" r="0.4"/><circle cx="303.1" cy="155.1" r="0.4"/><circle cx="303.9" cy="172.7" r="0.4"/><circle cx="306.5" cy="167.9" r="0.4"/><circle cx="304.4" cy="162.9" r="0.4"/><circle cx="307.4" cy="154.2" r="0.4"/><circle cx="303.6" cy="153.0" r="0.4"/><circle cx="305.3" cy="170.6" r="0.4"/></g>
<g fill="#c4c4c4" opacity="1" clip-path="url(#cD118)"><circle cx="317.6" cy="162.9" r="0.35"/><circle cx="331.7" cy="160.8" r="0.35"/><circle cx="319.2" cy="163.6" r="0.35"/><circle cx="309.5" cy="161.8" r="0.35"/><circle cx="322.9" cy="168.3" r="0.35"/><circle cx="306.8" cy="157.0" r="0.35"/><circle cx="306.7" cy="168.7" r="0.35"/><circle cx="324.8" cy="151.0" r="0.35"/><circle cx="333.5" cy="172.3" r="0.35"/><circle cx="323.6" cy="164.2" r="0.35"/><circle cx="308.7" cy="150.3" r="0.35"/><circle cx="319.9" cy="151.4" r="0.35"/><circle cx="309.7" cy="155.6" r="0.35"/><circle cx="304.9" cy="160.7" r="0.35"/><circle cx="317.2" cy="169.5" r="0.35"/><circle cx="319.6" cy="164.8" r="0.35"/><circle cx="319.0" cy="165.3" r="0.35"/><circle cx="317.7" cy="156.4" r="0.35"/><circle cx="333.9" cy="173.0" r="0.35"/><circle cx="329.2" cy="166.4" r="0.35"/><circle cx="313.5" cy="155.3" r="0.35"/><circle cx="312.7" cy="151.6" r="0.35"/><circle cx="327.0" cy="159.2" r="0.35"/><circle cx="329.4" cy="158.9" r="0.35"/><circle cx="332.7" cy="169.6" r="0.35"/><circle cx="304.0" cy="154.8" r="0.35"/><circle cx="331.3" cy="160.9" r="0.35"/><circle cx="333.4" cy="159.2" r="0.35"/><circle cx="306.2" cy="164.5" r="0.35"/><circle cx="327.4" cy="156.2" r="0.35"/><circle cx="306.6" cy="157.7" r="0.35"/><circle cx="332.9" cy="167.5" r="0.35"/><circle cx="307.5" cy="155.7" r="0.35"/><circle cx="307.0" cy="151.4" r="0.35"/><circle cx="327.9" cy="154.1" r="0.35"/><circle cx="320.8" cy="160.3" r="0.35"/><circle cx="309.7" cy="166.9" r="0.35"/><circle cx="307.9" cy="164.9" r="0.35"/><circle cx="307.5" cy="159.7" r="0.35"/><circle cx="310.4" cy="156.2" r="0.35"/><circle cx="333.1" cy="168.6" r="0.35"/><circle cx="313.1" cy="170.4" r="0.35"/><circle cx="310.3" cy="159.1" r="0.35"/><circle cx="329.6" cy="164.8" r="0.35"/><circle cx="307.0" cy="172.9" r="0.35"/><circle cx="310.4" cy="156.0" r="0.35"/><circle cx="327.2" cy="157.6" r="0.35"/><circle cx="312.9" cy="151.7" r="0.35"/><circle cx="306.7" cy="163.5" r="0.35"/><circle cx="311.3" cy="163.9" r="0.35"/></g>
<path d="M281.2,149.0 L281.2,174.2 L302.4,174.2 L302.4,149.0" fill="none" stroke="#111" stroke-width="1.6"/>
<path d="M304,146.20000000000002 L312,143.4 L325,135.9" fill="none" stroke="#333" stroke-width="1.1"/>
<rect x="280.6" y="128.7" width="21.9" height="18.700000000000017" fill="none" stroke="#000" stroke-width="1.2"/>
<rect x="302.5" y="124.4" width="26.399999999999977" height="9.0" fill="none" stroke="#000" stroke-width="1.1"/>
<rect x="302.5" y="133.4" width="25.5" height="14.0" fill="none" stroke="#000" stroke-width="1.1"/>
<clipPath id="cD181"><rect x="280.3" y="181.60000000000002" width="55.20000000000001" height="55.799999999999976"/></clipPath>
<rect x="280.0" y="181.3" width="55.80000000000001" height="56.39999999999998" fill="#fdfdfd" stroke="#a0a0a0" stroke-width="0.6"/>
<rect x="280.6" y="210.2" width="22.0" height="27.2" fill="#acacac" stroke="none" stroke-width="1"/>
<rect x="280.6" y="190.8" width="21.9" height="18.799999999999983" fill="#bcbcbc" stroke="none" stroke-width="1"/>
<clipPath id="cD181b"><rect x="280.3" y="190.8" width="23.19999999999999" height="46.59999999999998"/><rect x="302.5" y="186.9" width="27.80000000000001" height="22.69999999999999"/></clipPath>
<path d="M280.2,189.6 290.2,188.2 301.8,189.8 308.8,188.9 319.8,188.6 328.2,189.2 332.8,190.2 335.0,191.5 334.9,192.1 334.4,192.5 326.6,195.1 326.3,195.5 326.5,195.8 328.6,197.5 328.3,198.8 325.6,201.8 319.8,205.1 317.5,206.9 311.2,208.7 306.2,209.2 304.9,210.1 304.8,211.1 306.3,214.5 306.8,218.1 306.5,220.8 307.1,225.5 306.1,229.1 307.6,235.1 307.4,236.1 306.4,237.5 M280.2,190.0 281.8,189.6 284.8,189.6 289.8,188.6 301.8,190.1 308.8,189.1 319.2,188.7 327.5,189.3 332.2,190.4 333.9,191.5 333.2,192.4 328.2,194.3 324.2,195.0 320.0,195.1 320.0,195.5 321.5,196.0 325.2,196.0 327.5,197.5 327.6,198.5 325.2,201.6 319.8,204.8 316.8,207.0 310.2,208.6 306.2,208.8 304.6,209.8 304.4,211.5 305.8,215.1 305.5,220.5 306.4,224.5 306.2,226.1 305.2,228.8 307.0,235.1 306.8,236.1 305.7,237.5 M309.2,196.1 310.9,195.5 307.8,194.9 306.1,195.5 306.8,196.3 309.2,196.1 M280.2,190.4 282.2,190.0 284.8,190.1 289.8,189.0 302.2,190.5 308.8,189.3 318.8,188.9 327.2,189.4 331.1,190.5 332.6,191.5 332.2,192.1 329.8,193.3 326.8,194.2 312.8,195.0 307.2,194.5 305.1,195.1 305.2,196.2 306.8,197.0 317.5,195.5 321.6,196.5 324.5,196.5 326.2,197.3 326.7,198.5 325.9,200.1 324.8,201.4 316.5,206.9 310.2,208.3 305.8,208.6 304.0,209.8 303.9,211.1 305.1,215.1 304.4,220.5 305.6,224.1 304.6,229.1 306.3,235.1 306.1,236.1 305.1,237.5 M280.2,190.9 282.2,190.4 285.2,190.6 287.8,189.7 290.5,189.4 296.9,190.5 302.5,190.9 308.8,189.5 318.5,189.1 326.8,189.6 330.2,190.6 331.3,191.5 330.0,192.8 327.2,193.8 312.8,194.6 306.8,194.1 304.2,194.9 304.0,195.5 304.5,196.5 306.5,197.5 312.5,196.5 318.2,196.0 324.5,197.1 325.5,197.8 325.8,198.8 325.3,200.1 324.4,201.1 319.8,204.0 316.5,206.6 310.2,208.0 305.8,208.3 303.7,209.5 303.5,211.1 304.4,215.1 303.7,220.5 304.7,224.5 304.2,229.5 305.6,235.1 304.5,237.5 M280.2,191.5 282.2,190.8 285.2,191.1 288.2,190.2 290.8,189.9 293.8,190.2 296.5,190.9 302.5,191.4 309.2,189.8 318.2,189.3 326.5,189.8 328.7,190.5 330.2,191.5 330.0,192.1 329.2,192.8 326.8,193.5 312.8,194.3 306.8,193.6 304.2,194.0 303.1,194.8 303.2,195.8 303.9,196.8 306.5,198.0 312.5,196.9 318.2,196.4 324.2,197.7 325.0,198.8 324.8,199.8 324.0,200.8 320.5,203.0 316.2,206.4 310.2,207.7 305.5,208.0 303.4,209.1 303.0,210.8 303.9,215.1 303.2,220.1 304.0,224.1 303.8,230.5 304.8,235.1 304.0,237.5 M280.2,212.6 280.4,210.5 280.2,207.5 M280.2,192.2 282.2,191.3 285.5,191.6 288.8,190.6 291.5,190.4 293.8,190.6 296.2,191.5 302.5,192.1 309.2,190.1 317.8,189.5 326.2,190.0 327.8,190.5 329.2,191.5 329.1,192.1 327.8,192.9 322.2,193.6 312.2,194.0 306.8,193.1 303.2,193.3 301.9,194.1 301.7,195.1 302.6,196.5 304.1,197.8 305.8,198.5 307.5,198.5 312.2,197.4 318.2,196.8 323.2,198.2 324.1,199.1 323.4,200.5 320.5,202.3 316.2,206.0 310.5,207.4 305.2,207.7 303.5,208.3 302.8,209.1 302.6,210.8 303.4,215.1 302.9,220.5 303.4,224.1 303.5,232.1 304.1,235.5 303.5,237.5 M280.2,214.1 280.8,210.5 280.2,205.7 M317.2,193.5 311.2,193.6 306.2,192.1 306.2,191.8 309.8,190.4 318.2,189.7 326.2,190.3 327.8,191.1 328.3,191.8 327.6,192.5 326.5,192.8 317.2,193.5 M280.2,193.2 282.2,191.9 285.5,192.1 289.5,191.1 292.8,191.0 296.2,192.3 299.5,192.5 300.1,193.1 299.9,194.5 300.3,195.5 303.3,198.1 304.7,198.8 307.2,199.0 317.8,197.2 320.2,197.7 322.6,199.1 322.3,200.1 315.8,205.7 310.8,207.0 304.6,207.5 303.2,207.9 302.5,208.6 302.2,210.5 303.0,215.1 302.5,220.5 303.0,224.1 303.0,232.5 303.5,235.5 303.0,237.5 M280.2,220.5 280.4,215.1 281.2,210.1 280.2,202.7 M316.8,193.1 311.2,193.2 309.5,192.6 308.8,191.8 309.2,191.1 310.2,190.8 317.8,190.0 325.5,190.7 327.0,191.5 326.4,192.1 322.2,192.9 316.8,193.1 M280.2,194.4 282.5,192.5 285.5,192.6 289.8,191.7 292.5,191.5 294.3,192.1 296.8,194.7 304.1,199.5 307.2,199.6 317.8,197.6 319.8,198.1 321.1,199.1 320.7,200.5 315.8,205.2 311.2,206.6 303.5,207.2 302.1,208.1 301.7,210.1 302.6,214.8 302.2,220.5 303.0,235.8 302.5,237.5 M280.2,222.0 281.6,209.8 281.1,203.1 280.2,200.9 M280.2,233.5 280.5,231.5 280.2,229.3 M313.2,192.8 310.9,192.5 310.3,191.8 311.2,191.3 317.8,190.3 323.2,191.5 322.7,192.1 321.2,192.6 313.2,192.8 M280.2,195.9 282.8,193.4 292.2,192.2 293.5,192.5 294.7,193.8 295.7,198.1 296.2,198.7 298.1,197.5 299.5,197.5 300.8,198.1 302.8,199.9 304.2,200.4 310.2,199.5 313.2,199.8 317.5,198.2 319.2,198.5 319.9,199.1 319.5,200.5 316.5,203.8 315.2,204.8 310.8,206.2 302.8,206.7 301.5,207.8 301.2,210.1 302.2,214.8 301.8,220.1 302.4,228.1 302.4,236.1 301.9,237.5 M280.2,234.8 280.9,231.8 280.3,227.5 280.3,223.5 281.0,220.1 281.2,214.5 282.1,209.5 281.7,205.5 282.1,202.8 280.2,199.3 M296.2,215.5 296.8,215.0 297.3,213.8 297.3,212.1 296.8,211.3 296.2,211.8 295.5,213.5 295.6,214.8 296.2,215.5 M317.8,192.1 315.1,191.8 316.0,191.1 317.5,190.9 320.3,191.5 320.2,191.9 317.8,192.1 M280.9,237.5 280.4,235.8 281.5,231.8 280.7,227.5 280.7,223.5 281.5,219.5 281.7,213.5 282.9,209.5 282.4,205.1 283.8,202.8 281.5,199.5 281.2,197.2 282.1,195.8 283.8,194.4 286.5,193.7 291.8,193.1 293.2,193.4 294.0,194.5 294.2,199.4 294.5,200.1 295.5,200.8 297.2,200.6 299.2,198.9 299.8,198.8 303.8,201.3 310.2,200.3 312.8,201.3 315.8,201.5 316.0,201.8 315.0,203.5 312.0,205.5 308.2,206.0 302.5,205.9 301.5,206.4 300.8,207.5 300.4,210.1 301.7,214.8 301.4,220.1 302.1,228.5 301.7,236.1 301.1,237.5 M317.2,200.5 316.8,200.5 316.9,199.8 318.2,199.5 318.0,200.1 317.2,200.5 M296.8,217.1 298.2,214.8 298.7,211.5 298.2,209.5 297.2,208.7 295.2,209.5 294.5,210.8 294.7,216.5 295.8,217.4 296.8,217.1 M289.7,210.8 290.6,210.5 290.4,209.8 288.5,208.9 287.6,209.1 287.4,209.8 287.8,210.5 289.7,210.8 M293.2,208.1 290.2,207.8 288.2,206.1 285.2,207.7 284.2,207.5 283.5,206.7 283.5,205.2 285.1,204.1 285.5,203.1 285.0,202.1 283.1,200.1 282.8,198.5 283.8,197.5 286.2,196.8 285.8,195.8 286.2,195.1 287.8,195.0 290.2,196.6 291.8,197.0 293.6,200.5 295.2,201.5 297.7,201.5 300.2,200.2 303.5,202.4 309.8,201.4 312.2,202.4 312.9,203.1 312.7,204.1 311.2,205.0 306.8,205.4 302.2,204.7 299.5,207.0 297.4,206.8 293.2,208.1 M281.5,237.5 281.0,235.8 282.2,232.1 281.3,227.8 281.1,223.8 282.0,218.8 282.1,213.8 282.8,211.4 283.5,210.7 284.5,210.4 286.0,211.5 287.2,214.0 289.8,212.5 292.2,212.1 293.2,212.5 293.6,213.8 293.7,216.5 294.6,219.1 292.9,220.8 292.7,221.8 293.5,223.1 294.5,223.5 295.8,223.6 296.4,223.1 297.7,218.1 299.5,213.9 300.2,213.3 300.9,214.1 301.2,216.1 301.2,225.1 301.7,228.8 300.8,236.1 300.4,236.8 299.5,237.2 295.5,237.1 294.0,237.5 M296.4,232.5 296.9,231.8 296.9,230.1 296.5,228.6 295.8,227.8 294.2,227.4 290.9,229.1 291.9,231.1 294.6,232.5 296.4,232.5 M295.2,206.5 294.2,206.6 293.2,206.1 292.2,203.0 291.2,202.9 288.8,203.5 287.8,203.3 286.3,200.5 291.2,199.4 291.8,199.8 293.4,201.8 299.9,202.8 300.1,203.8 299.5,205.0 295.2,206.5 M285.8,200.1 285.8,200.1 M306.8,204.2 306.1,204.1 305.9,203.5 307.0,203.5 307.2,203.8 306.8,204.2 M282.2,237.5 281.6,236.5 281.7,235.5 283.4,231.8 282.1,228.8 281.5,223.5 282.7,218.5 282.7,213.1 283.2,212.1 284.2,211.7 285.4,212.8 286.1,215.1 287.4,216.8 288.4,219.8 289.2,220.4 290.8,220.7 293.0,225.1 292.5,226.4 291.2,226.7 289.2,225.9 287.5,224.2 286.8,224.1 286.3,224.5 286.0,226.1 287.5,229.5 286.1,231.5 287.3,232.5 292.2,232.9 296.2,234.0 297.5,233.6 298.0,232.1 297.4,226.5 298.1,224.8 298.0,222.1 298.7,220.1 299.1,217.1 299.8,216.1 300.3,216.5 300.3,220.1 300.8,222.8 300.2,225.1 301.1,227.5 301.2,229.1 300.2,234.0 298.8,235.8 295.2,236.3 292.9,237.5 M291.5,219.5 290.9,219.1 290.3,217.1 289.3,215.5 290.1,214.1 291.5,213.6 292.5,214.4 292.8,218.1 292.5,219.0 291.5,219.5 M289.6,237.5 287.5,236.9 285.5,237.5 M295.5,205.2 294.8,205.2 294.2,204.8 294.0,203.8 294.5,203.2 295.8,203.2 296.9,203.8 296.7,204.5 295.5,205.2 M284.5,229.5 283.8,229.4 283.2,228.6 282.0,223.8 283.8,217.5 283.2,214.5 283.8,213.0 284.5,213.5 285.0,216.1 286.7,218.5 287.3,221.1 285.2,224.7 284.8,226.5 285.1,228.8 284.5,229.5 M290.5,224.7 289.8,224.6 289.1,223.8 289.1,222.8 289.5,222.5 290.2,222.5 290.8,223.1 290.9,224.1 290.5,224.7 M299.5,231.9 298.8,231.1 298.5,229.5 298.8,228.1 299.5,227.5 300.3,228.1 300.6,229.5 300.2,231.2 299.5,231.9 M291.8,237.2 287.5,236.2 283.5,237.3 282.6,236.8 282.3,235.8 283.2,234.1 284.8,232.9 288.5,233.6 291.8,233.6 293.5,234.1 294.3,235.1 293.7,236.1 291.8,237.2" fill="none" stroke="#555" stroke-width="0.45" clip-path="url(#cD181b)"/>
<g fill="#999" opacity="1" clip-path="url(#cD181)"><circle cx="304.8" cy="225.0" r="0.4"/><circle cx="305.1" cy="224.3" r="0.4"/><circle cx="305.0" cy="229.0" r="0.4"/><circle cx="304.3" cy="228.5" r="0.4"/><circle cx="303.1" cy="221.0" r="0.4"/><circle cx="304.7" cy="217.4" r="0.4"/><circle cx="306.7" cy="221.2" r="0.4"/><circle cx="306.9" cy="235.7" r="0.4"/><circle cx="304.3" cy="234.3" r="0.4"/><circle cx="307.0" cy="229.2" r="0.4"/><circle cx="303.1" cy="224.5" r="0.4"/><circle cx="306.1" cy="220.9" r="0.4"/><circle cx="304.1" cy="221.2" r="0.4"/><circle cx="304.3" cy="231.9" r="0.4"/><circle cx="304.7" cy="223.7" r="0.4"/><circle cx="306.2" cy="235.5" r="0.4"/><circle cx="304.5" cy="215.2" r="0.4"/><circle cx="307.9" cy="232.9" r="0.4"/><circle cx="307.0" cy="226.0" r="0.4"/><circle cx="304.2" cy="217.7" r="0.4"/><circle cx="304.5" cy="224.6" r="0.4"/><circle cx="303.3" cy="229.9" r="0.4"/><circle cx="306.6" cy="214.5" r="0.4"/><circle cx="307.2" cy="225.3" r="0.4"/><circle cx="307.6" cy="224.9" r="0.4"/></g>
<g fill="#c4c4c4" opacity="1" clip-path="url(#cD181)"><circle cx="318.2" cy="227.7" r="0.35"/><circle cx="324.0" cy="215.6" r="0.35"/><circle cx="304.3" cy="221.0" r="0.35"/><circle cx="312.2" cy="231.2" r="0.35"/><circle cx="324.7" cy="226.3" r="0.35"/><circle cx="320.7" cy="227.7" r="0.35"/><circle cx="308.4" cy="222.5" r="0.35"/><circle cx="308.9" cy="233.5" r="0.35"/><circle cx="305.8" cy="231.4" r="0.35"/><circle cx="306.2" cy="228.3" r="0.35"/><circle cx="314.1" cy="221.7" r="0.35"/><circle cx="329.3" cy="212.6" r="0.35"/><circle cx="305.8" cy="233.7" r="0.35"/><circle cx="319.3" cy="214.3" r="0.35"/><circle cx="333.6" cy="234.4" r="0.35"/><circle cx="307.4" cy="222.1" r="0.35"/><circle cx="308.1" cy="219.5" r="0.35"/><circle cx="322.6" cy="216.0" r="0.35"/><circle cx="324.9" cy="213.4" r="0.35"/><circle cx="309.1" cy="231.4" r="0.35"/><circle cx="316.0" cy="222.0" r="0.35"/><circle cx="321.9" cy="223.4" r="0.35"/><circle cx="315.5" cy="212.9" r="0.35"/><circle cx="325.8" cy="234.9" r="0.35"/><circle cx="333.3" cy="227.8" r="0.35"/><circle cx="314.7" cy="220.7" r="0.35"/><circle cx="324.7" cy="228.0" r="0.35"/><circle cx="307.4" cy="217.7" r="0.35"/><circle cx="314.9" cy="224.2" r="0.35"/><circle cx="328.3" cy="224.0" r="0.35"/><circle cx="304.8" cy="231.5" r="0.35"/><circle cx="316.9" cy="224.4" r="0.35"/><circle cx="310.7" cy="222.2" r="0.35"/><circle cx="315.6" cy="230.3" r="0.35"/><circle cx="307.1" cy="225.1" r="0.35"/><circle cx="309.3" cy="228.6" r="0.35"/><circle cx="305.1" cy="218.7" r="0.35"/><circle cx="314.3" cy="227.2" r="0.35"/><circle cx="305.6" cy="223.0" r="0.35"/><circle cx="310.3" cy="218.8" r="0.35"/><circle cx="318.3" cy="234.7" r="0.35"/><circle cx="318.4" cy="234.7" r="0.35"/><circle cx="309.0" cy="233.9" r="0.35"/><circle cx="314.9" cy="216.6" r="0.35"/><circle cx="326.5" cy="233.6" r="0.35"/><circle cx="304.2" cy="218.5" r="0.35"/><circle cx="327.1" cy="220.2" r="0.35"/><circle cx="311.2" cy="212.4" r="0.35"/><circle cx="305.2" cy="226.7" r="0.35"/><circle cx="333.5" cy="235.7" r="0.35"/></g>
<path d="M281.2,211.2 L281.2,236.79999999999998 L302.4,236.79999999999998 L302.4,211.2" fill="none" stroke="#111" stroke-width="1.6"/>
<rect x="280.6" y="190.8" width="21.9" height="18.799999999999983" fill="none" stroke="#000" stroke-width="1.2"/>
<rect x="302.5" y="186.9" width="27.80000000000001" height="9.0" fill="none" stroke="#000" stroke-width="1.1"/>
<rect x="302.5" y="195.9" width="25.5" height="13.699999999999989" fill="none" stroke="#000" stroke-width="1.1"/>
<text x="285.4" y="127.2" font-size="6.9" font-family="'Liberation Sans', Arial, sans-serif" fill="#000" stroke="#000" stroke-width="0.25" textLength="11.9" lengthAdjust="spacingAndGlyphs">11.8</text>
<text x="308.4" y="125.9" font-size="6.9" font-family="'Liberation Sans', Arial, sans-serif" fill="#000" stroke="#000" stroke-width="0.25" textLength="13.7" lengthAdjust="spacingAndGlyphs">6.08</text>
<text x="331.3" y="133.4" font-size="9.4" font-family="'Liberation Sans', Arial, sans-serif" fill="#000" stroke="#000" stroke-width="0.35" textLength="6.2" lengthAdjust="spacingAndGlyphs">F</text>
<text x="282.8" y="146.6" font-size="9.4" font-family="'Liberation Sans', Arial, sans-serif" fill="#000" stroke="#000" stroke-width="0.4" textLength="16.2" lengthAdjust="spacingAndGlyphs">A-D</text>
<text x="330.2" y="147.1" font-size="9.4" font-family="'Liberation Sans', Arial, sans-serif" fill="#000" stroke="#000" stroke-width="0.35" textLength="6.4" lengthAdjust="spacingAndGlyphs">E</text>
<text x="309.3" y="154.1" font-size="6.9" font-family="'Liberation Sans', Arial, sans-serif" fill="#000" stroke="#000" stroke-width="0.25" textLength="11.9" lengthAdjust="spacingAndGlyphs">5.52</text>
<text x="285.4" y="188.9" font-size="6.9" font-family="'Liberation Sans', Arial, sans-serif" fill="#000" stroke="#000" stroke-width="0.25" textLength="11.9" lengthAdjust="spacingAndGlyphs">14.7</text>
<text x="309.3" y="187.6" font-size="6.9" font-family="'Liberation Sans', Arial, sans-serif" fill="#000" stroke="#000" stroke-width="0.25" textLength="12.8" lengthAdjust="spacingAndGlyphs">2.22</text>
<text x="308.4" y="216.2" font-size="6.9" font-family="'Liberation Sans', Arial, sans-serif" fill="#000" stroke="#000" stroke-width="0.25" textLength="12.8" lengthAdjust="spacingAndGlyphs">3.83</text>
<line x1="271.2" y1="234" x2="271.2" y2="248.1" stroke="#000" stroke-width="1.1"/>
<line x1="270.7" y1="248.1" x2="284.6" y2="248.1" stroke="#000" stroke-width="1.1"/>
<path d="M271.2,230.1 L268.6,235.6 L273.8,235.6 Z" fill="#000"/>
<path d="M288.6,248.1 L284.2,245.6 L284.2,250.6 Z" fill="#000"/>
<text x="275.5" y="226.7" font-size="7.8" font-family="'Liberation Sans', Arial, sans-serif" fill="#000" stroke="#000" stroke-width="0.15" font-weight="bold" textLength="18.3" lengthAdjust="spacingAndGlyphs" transform="rotate(-90 275.5 226.7)">B220</text>
<text x="291.5" y="251.0" font-size="7.4" font-family="'Liberation Sans', Arial, sans-serif" fill="#000" stroke="#000" stroke-width="0.25" textLength="12.5" lengthAdjust="spacingAndGlyphs">IgM</text>
<rect x="409.3" y="146.6" width="28.699999999999978" height="71.60000000000002" fill="#e3e3e3" stroke="none" stroke-width="1"/>
<line x1="409.3" y1="145.6" x2="409.3" y2="219.8" stroke="#000" stroke-width="1.0" stroke-dasharray="0.9,0.9"/>
<rect x="377.7" y="145.6" width="62.0" height="74.20000000000002" fill="none" stroke="#000" stroke-width="1.2"/>
<rect x="469.6" y="146.6" width="28.3" height="71.60000000000002" fill="#e3e3e3" stroke="none" stroke-width="1"/>
<line x1="469.6" y1="145.6" x2="469.6" y2="219.8" stroke="#000" stroke-width="1.0" stroke-dasharray="0.9,0.9"/>
<rect x="439.7" y="145.6" width="59.900000000000034" height="74.20000000000002" fill="none" stroke="#000" stroke-width="1.2"/>
<line x1="374.7" y1="145.6" x2="377.7" y2="145.6" stroke="#000" stroke-width="1"/>
<text x="374.4" y="147.6" font-size="5.5" font-family="'Liberation Sans', Arial, sans-serif" fill="#000" stroke="#000" stroke-width="0.35" text-anchor="end" letter-spacing="0.3">10</text>
<line x1="374.7" y1="160.44" x2="377.7" y2="160.44" stroke="#000" stroke-width="1"/>
<text x="374.4" y="162.44" font-size="5.5" font-family="'Liberation Sans', Arial, sans-serif" fill="#000" stroke="#000" stroke-width="0.35" text-anchor="end" letter-spacing="0.3">8</text>
<line x1="374.7" y1="175.28" x2="377.7" y2="175.28" stroke="#000" stroke-width="1"/>
<text x="374.4" y="177.28" font-size="5.5" font-family="'Liberation Sans', Arial, sans-serif" fill="#000" stroke="#000" stroke-width="0.35" text-anchor="end" letter-spacing="0.3">6</text>
<line x1="374.7" y1="190.12" x2="377.7" y2="190.12" stroke="#000" stroke-width="1"/>
<text x="374.4" y="192.12" font-size="5.5" font-family="'Liberation Sans', Arial, sans-serif" fill="#000" stroke="#000" stroke-width="0.35" text-anchor="end" letter-spacing="0.3">4</text>
<line x1="374.7" y1="204.96" x2="377.7" y2="204.96" stroke="#000" stroke-width="1"/>
<text x="374.4" y="206.96" font-size="5.5" font-family="'Liberation Sans', Arial, sans-serif" fill="#000" stroke="#000" stroke-width="0.35" text-anchor="end" letter-spacing="0.3">2</text>
<line x1="374.7" y1="219.8" x2="377.7" y2="219.8" stroke="#000" stroke-width="1"/>
<text x="374.4" y="221.8" font-size="5.5" font-family="'Liberation Sans', Arial, sans-serif" fill="#000" stroke="#000" stroke-width="0.35" text-anchor="end" letter-spacing="0.3">0</text>
<text x="380.6" y="128.0" font-size="7.8" font-family="'Liberation Sans', Arial, sans-serif" fill="#000" stroke="#000" stroke-width="0.25" textLength="56.9" lengthAdjust="spacingAndGlyphs">B-cell progenitors</text>
<text x="401.9" y="137.2" font-size="7.8" font-family="'Liberation Sans', Arial, sans-serif" fill="#000" stroke="#000" stroke-width="0.25" textLength="13.7" lengthAdjust="spacingAndGlyphs">(A-D)</text>
<text x="444.4" y="127.8" font-size="7.8" font-family="'Liberation Sans', Arial, sans-serif" fill="#000" stroke="#000" stroke-width="0.25" textLength="55.4" lengthAdjust="spacingAndGlyphs">Immature B-cells</text>
<text x="465.0" y="137.2" font-size="7.8" font-family="'Liberation Sans', Arial, sans-serif" fill="#000" stroke="#000" stroke-width="0.25" textLength="13.1" lengthAdjust="spacingAndGlyphs">(E-F)</text>
<text x="364.3" y="173.7" font-size="7.8" font-family="'Liberation Sans', Arial, sans-serif" fill="#000" stroke="#000" stroke-width="0.3" text-anchor="middle" textLength="73" lengthAdjust="spacingAndGlyphs" transform="rotate(-90 364.3 173.7)">Cells per femur (10e6)</text>
<text x="393.1" y="231.8" font-size="7.4" font-family="'Liberation Sans', Arial, sans-serif" fill="#000" stroke="#000" stroke-width="0.25" font-weight="bold" text-anchor="middle" textLength="21.3" lengthAdjust="spacingAndGlyphs">2-3mo</text>
<text x="422.3" y="231.8" font-size="7.4" font-family="'Liberation Sans', Arial, sans-serif" fill="#000" stroke="#000" stroke-width="0.25" font-weight="bold" text-anchor="middle" textLength="19.5" lengthAdjust="spacingAndGlyphs">12mo</text>
<text x="454.4" y="231.8" font-size="7.4" font-family="'Liberation Sans', Arial, sans-serif" fill="#000" stroke="#000" stroke-width="0.25" font-weight="bold" text-anchor="middle" textLength="21.3" lengthAdjust="spacingAndGlyphs">2-3mo</text>
<text x="483.1" y="231.8" font-size="7.4" font-family="'Liberation Sans', Arial, sans-serif" fill="#000" stroke="#000" stroke-width="0.25" font-weight="bold" text-anchor="middle" textLength="19.0" lengthAdjust="spacingAndGlyphs">12mo</text>
<circle cx="388.7" cy="153.5" r="1.9" fill="#fff" stroke="#000" stroke-width="1.1"/>
<circle cx="388.7" cy="168.7" r="1.9" fill="#fff" stroke="#000" stroke-width="1.1"/>
<circle cx="390.6" cy="170.6" r="1.9" fill="#fff" stroke="#000" stroke-width="1.1"/>
<circle cx="386.1" cy="174.4" r="1.9" fill="#fff" stroke="#000" stroke-width="1.1"/>
<circle cx="391.2" cy="174.4" r="1.9" fill="#fff" stroke="#000" stroke-width="1.1"/>
<circle cx="387.4" cy="176.3" r="1.9" fill="#fff" stroke="#000" stroke-width="1.1"/>
<circle cx="386.1" cy="180" r="1.9" fill="#fff" stroke="#000" stroke-width="1.1"/>
<circle cx="391.2" cy="179.5" r="1.9" fill="#fff" stroke="#000" stroke-width="1.1"/>
<circle cx="391.2" cy="182.9" r="1.9" fill="#fff" stroke="#000" stroke-width="1.1"/>
<circle cx="388.7" cy="197.1" r="1.9" fill="#fff" stroke="#000" stroke-width="1.1"/>
<line x1="383.5" y1="175.5" x2="394" y2="175.5" stroke="#000" stroke-width="1"/>
<circle cx="399.3" cy="174.4" r="1.9" fill="#7a7a7a" stroke="#000" stroke-width="1.1"/>
<circle cx="405" cy="175.7" r="1.9" fill="#7a7a7a" stroke="#000" stroke-width="1.1"/>
<circle cx="399.3" cy="180" r="1.9" fill="#7a7a7a" stroke="#000" stroke-width="1.1"/>
<circle cx="405" cy="183.8" r="1.9" fill="#7a7a7a" stroke="#000" stroke-width="1.1"/>
<circle cx="399.7" cy="188.6" r="1.9" fill="#7a7a7a" stroke="#000" stroke-width="1.1"/>
<circle cx="402.6" cy="186.7" r="1.9" fill="#7a7a7a" stroke="#000" stroke-width="1.1"/>
<circle cx="405" cy="187.6" r="1.9" fill="#7a7a7a" stroke="#000" stroke-width="1.1"/>
<circle cx="399.7" cy="191.4" r="1.9" fill="#7a7a7a" stroke="#000" stroke-width="1.1"/>
<circle cx="403.5" cy="190.5" r="1.9" fill="#7a7a7a" stroke="#000" stroke-width="1.1"/>
<circle cx="399.3" cy="195.2" r="1.9" fill="#7a7a7a" stroke="#000" stroke-width="1.1"/>
<circle cx="405" cy="195.2" r="1.9" fill="#7a7a7a" stroke="#000" stroke-width="1.1"/>
<circle cx="399.3" cy="198" r="1.9" fill="#7a7a7a" stroke="#000" stroke-width="1.1"/>
<circle cx="402.6" cy="192" r="1.9" fill="#7a7a7a" stroke="#000" stroke-width="1.1"/>
<line x1="397" y1="190" x2="407.5" y2="190" stroke="#000" stroke-width="1"/>
<circle cx="399.70" cy="164.9" r="1.4" fill="#000"/>
<circle cx="403.50" cy="164.9" r="1.4" fill="#000"/>
<circle cx="414.7" cy="157.9" r="1.9" fill="#fff" stroke="#000" stroke-width="1.1"/>
<circle cx="411.5" cy="165.5" r="1.9" fill="#fff" stroke="#000" stroke-width="1.1"/>
<circle cx="417.7" cy="163.2" r="1.9" fill="#fff" stroke="#000" stroke-width="1.1"/>
<circle cx="414.7" cy="163.7" r="1.9" fill="#fff" stroke="#000" stroke-width="1.1"/>
<circle cx="414.7" cy="182.6" r="1.9" fill="#fff" stroke="#000" stroke-width="1.1"/>
<circle cx="414.7" cy="188.4" r="1.9" fill="#fff" stroke="#000" stroke-width="1.1"/>
<line x1="414.7" y1="165" x2="414.7" y2="177.3" stroke="#000" stroke-width="1"/>
<line x1="410.6" y1="171.1" x2="418.9" y2="171.1" stroke="#000" stroke-width="1"/>
<line x1="412.5" y1="165" x2="417" y2="165" stroke="#000" stroke-width="1"/>
<line x1="412.5" y1="177.3" x2="417" y2="177.3" stroke="#000" stroke-width="1"/>
<circle cx="430.9" cy="184.3" r="1.9" fill="#7a7a7a" stroke="#000" stroke-width="1.1"/>
<circle cx="425.3" cy="187.9" r="1.9" fill="#7a7a7a" stroke="#000" stroke-width="1.1"/>
<circle cx="425.3" cy="206.3" r="1.9" fill="#7a7a7a" stroke="#000" stroke-width="1.1"/>
<circle cx="430.9" cy="203.7" r="1.9" fill="#7a7a7a" stroke="#000" stroke-width="1.1"/>
<line x1="428.2" y1="190.5" x2="428.2" y2="198.4" stroke="#000" stroke-width="1"/>
<line x1="424.2" y1="193.7" x2="432.3" y2="193.7" stroke="#000" stroke-width="1"/>
<line x1="426" y1="190.5" x2="430.5" y2="190.5" stroke="#000" stroke-width="1"/>
<line x1="426" y1="198.4" x2="430.5" y2="198.4" stroke="#000" stroke-width="1"/>
<circle cx="428.20" cy="176.4" r="1.4" fill="#000"/>
<circle cx="450.1" cy="169.3" r="1.9" fill="#fff" stroke="#000" stroke-width="1.1"/>
<circle cx="447.3" cy="176" r="1.9" fill="#fff" stroke="#000" stroke-width="1.1"/>
<circle cx="453.2" cy="177.7" r="1.9" fill="#fff" stroke="#000" stroke-width="1.1"/>
<circle cx="448.1" cy="186.1" r="1.9" fill="#fff" stroke="#000" stroke-width="1.1"/>
<circle cx="450.6" cy="186.9" r="1.9" fill="#fff" stroke="#000" stroke-width="1.1"/>
<circle cx="453.2" cy="188.3" r="1.9" fill="#fff" stroke="#000" stroke-width="1.1"/>
<circle cx="446.8" cy="187.8" r="1.9" fill="#fff" stroke="#000" stroke-width="1.1"/>
<circle cx="447.3" cy="196.2" r="1.9" fill="#fff" stroke="#000" stroke-width="1.1"/>
<circle cx="453.2" cy="197" r="1.9" fill="#fff" stroke="#000" stroke-width="1.1"/>
<circle cx="449.8" cy="195.4" r="1.9" fill="#fff" stroke="#000" stroke-width="1.1"/>
<circle cx="453.2" cy="201.2" r="1.9" fill="#fff" stroke="#000" stroke-width="1.1"/>
<circle cx="450.1" cy="207.5" r="1.9" fill="#fff" stroke="#000" stroke-width="1.1"/>
<line x1="444.5" y1="187" x2="456" y2="187" stroke="#000" stroke-width="1"/>
<circle cx="460.7" cy="204.6" r="1.9" fill="#7a7a7a" stroke="#000" stroke-width="1.1"/>
<circle cx="465.8" cy="204.6" r="1.9" fill="#7a7a7a" stroke="#000" stroke-width="1.1"/>
<circle cx="460.7" cy="208.8" r="1.9" fill="#7a7a7a" stroke="#000" stroke-width="1.1"/>
<circle cx="464.1" cy="208" r="1.9" fill="#7a7a7a" stroke="#000" stroke-width="1.1"/>
<circle cx="465.8" cy="209.7" r="1.9" fill="#7a7a7a" stroke="#000" stroke-width="1.1"/>
<circle cx="460.7" cy="213" r="1.9" fill="#7a7a7a" stroke="#000" stroke-width="1.1"/>
<circle cx="464.9" cy="213" r="1.9" fill="#7a7a7a" stroke="#000" stroke-width="1.1"/>
<circle cx="463.3" cy="216.4" r="1.9" fill="#7a7a7a" stroke="#000" stroke-width="1.1"/>
<line x1="458.5" y1="209.5" x2="468" y2="209.5" stroke="#000" stroke-width="1"/>
<circle cx="459.40" cy="191.6" r="1.4" fill="#000"/>
<circle cx="463.20" cy="191.6" r="1.4" fill="#000"/>
<circle cx="467.00" cy="191.6" r="1.4" fill="#000"/>
<circle cx="473.1" cy="192.1" r="1.9" fill="#fff" stroke="#000" stroke-width="1.1"/>
<circle cx="478.8" cy="189.3" r="1.9" fill="#fff" stroke="#000" stroke-width="1.1"/>
<circle cx="476.3" cy="192.6" r="1.9" fill="#fff" stroke="#000" stroke-width="1.1"/>
<circle cx="478.8" cy="203" r="1.9" fill="#fff" stroke="#000" stroke-width="1.1"/>
<circle cx="473.1" cy="206.4" r="1.9" fill="#fff" stroke="#000" stroke-width="1.1"/>
<line x1="476" y1="194" x2="476" y2="200.7" stroke="#000" stroke-width="1"/>
<line x1="472.2" y1="196.9" x2="480.7" y2="196.9" stroke="#000" stroke-width="1"/>
<line x1="474" y1="194" x2="478" y2="194" stroke="#000" stroke-width="1"/>
<line x1="474" y1="200.7" x2="478" y2="200.7" stroke="#000" stroke-width="1"/>
<circle cx="486.4" cy="208.7" r="1.9" fill="#7a7a7a" stroke="#000" stroke-width="1.1"/>
<circle cx="492.1" cy="209.2" r="1.9" fill="#7a7a7a" stroke="#000" stroke-width="1.1"/>
<circle cx="487.4" cy="212.1" r="1.9" fill="#7a7a7a" stroke="#000" stroke-width="1.1"/>
<circle cx="493.1" cy="212.5" r="1.9" fill="#7a7a7a" stroke="#000" stroke-width="1.1"/>
<circle cx="489.6" cy="215.9" r="1.9" fill="#7a7a7a" stroke="#000" stroke-width="1.1"/>
<line x1="484" y1="211" x2="495" y2="211" stroke="#000" stroke-width="1"/>
<circle cx="487.60" cy="200.7" r="1.4" fill="#000"/>
<circle cx="491.40" cy="200.7" r="1.4" fill="#000"/>
<text x="-0.4" y="265.5" font-size="11.5" font-family="'Liberation Sans', Arial, sans-serif" fill="#000" stroke="#000" stroke-width="0.25" font-weight="bold">E</text>
<line x1="30.2" y1="271.3" x2="30.2" y2="346.3" stroke="#000" stroke-width="1.1"/>
<line x1="29.7" y1="346.3" x2="109.2" y2="346.3" stroke="#000" stroke-width="1.1"/>
<line x1="27.599999999999998" y1="271.8" x2="30.2" y2="271.8" stroke="#000" stroke-width="0.9"/>
<text x="27.4" y="273.8" font-size="5.6" font-family="'Liberation Sans', Arial, sans-serif" fill="#000" stroke="#000" stroke-width="0.25" text-anchor="end">60%</text>
<line x1="27.599999999999998" y1="296.6333333333333" x2="30.2" y2="296.6333333333333" stroke="#000" stroke-width="0.9"/>
<text x="27.4" y="298.6333333333333" font-size="5.6" font-family="'Liberation Sans', Arial, sans-serif" fill="#000" stroke="#000" stroke-width="0.25" text-anchor="end">40%</text>
<line x1="27.599999999999998" y1="321.4666666666667" x2="30.2" y2="321.4666666666667" stroke="#000" stroke-width="0.9"/>
<text x="27.4" y="323.4666666666667" font-size="5.6" font-family="'Liberation Sans', Arial, sans-serif" fill="#000" stroke="#000" stroke-width="0.25" text-anchor="end">20%</text>
<line x1="27.599999999999998" y1="346.3" x2="30.2" y2="346.3" stroke="#000" stroke-width="0.9"/>
<text x="27.4" y="348.3" font-size="5.6" font-family="'Liberation Sans', Arial, sans-serif" fill="#000" stroke="#000" stroke-width="0.25" text-anchor="end">0%</text>
<text x="9.8" y="306.9" font-size="6.2" font-family="'Liberation Sans', Arial, sans-serif" fill="#000" stroke="#000" stroke-width="0.25" text-anchor="middle" textLength="75" lengthAdjust="spacingAndGlyphs" transform="rotate(-90 9.8 306.9)">% within LSK compartment</text>
<line x1="38.5" y1="335.4" x2="38.5" y2="335.9" stroke="#000" stroke-width="1.0"/>
<line x1="36.4" y1="335.4" x2="40.6" y2="335.4" stroke="#000" stroke-width="1.0"/>
<rect x="34.5" y="335.9" width="8.399999999999999" height="10.400000000000034" fill="#fff" stroke="#000" stroke-width="1.1"/>
<line x1="47.5" y1="332.8" x2="47.5" y2="333.4" stroke="#000" stroke-width="1.0"/>
<line x1="45.35" y1="332.8" x2="49.65" y2="332.8" stroke="#000" stroke-width="1.0"/>
<rect x="43.6" y="333.4" width="8.600000000000001" height="12.900000000000034" fill="#7c7c7c" stroke="#000" stroke-width="1.1"/>
<circle cx="47.90" cy="326.9" r="1.4" fill="#000"/>
<line x1="65.5" y1="281.2" x2="65.5" y2="281.9" stroke="#000" stroke-width="1.0"/>
<line x1="63.375" y1="281.2" x2="67.625" y2="281.2" stroke="#000" stroke-width="1.0"/>
<rect x="61.4" y="281.9" width="8.500000000000007" height="64.40000000000003" fill="#fff" stroke="#000" stroke-width="1.1"/>
<line x1="74.5" y1="292.8" x2="74.5" y2="293.6" stroke="#000" stroke-width="1.0"/>
<line x1="72.4" y1="292.8" x2="76.6" y2="292.8" stroke="#000" stroke-width="1.0"/>
<rect x="70.5" y="293.6" width="8.400000000000006" height="52.69999999999999" fill="#7c7c7c" stroke="#000" stroke-width="1.1"/>
<circle cx="70.50" cy="277.4" r="1.4" fill="#000"/>
<circle cx="74.30" cy="277.4" r="1.4" fill="#000"/>
<circle cx="78.10" cy="277.4" r="1.4" fill="#000"/>
<line x1="91.5" y1="297.2" x2="91.5" y2="297.9" stroke="#000" stroke-width="1.0"/>
<line x1="89.425" y1="297.2" x2="93.575" y2="297.2" stroke="#000" stroke-width="1.0"/>
<rect x="87.4" y="297.9" width="8.299999999999997" height="48.400000000000034" fill="#fff" stroke="#000" stroke-width="1.1"/>
<line x1="100.5" y1="287.3" x2="100.5" y2="288.2" stroke="#000" stroke-width="1.0"/>
<line x1="98.375" y1="287.3" x2="102.625" y2="287.3" stroke="#000" stroke-width="1.0"/>
<rect x="96.6" y="288.2" width="8.5" height="58.10000000000002" fill="#7c7c7c" stroke="#000" stroke-width="1.1"/>
<circle cx="96.90" cy="280.2" r="1.4" fill="#000"/>
<circle cx="100.70" cy="280.2" r="1.4" fill="#000"/>
<circle cx="104.50" cy="280.2" r="1.4" fill="#000"/>
<text x="31.6" y="358.6" font-size="7.2" font-family="'Liberation Sans', Arial, sans-serif" fill="#000" stroke="#000" stroke-width="0.25" font-weight="bold" textLength="24.5" lengthAdjust="spacingAndGlyphs">LT-HSC</text>
<text x="58.2" y="358.6" font-size="7.2" font-family="'Liberation Sans', Arial, sans-serif" fill="#000" stroke="#000" stroke-width="0.25" font-weight="bold" textLength="23.7" lengthAdjust="spacingAndGlyphs">ST-HSC</text>
<text x="86.8" y="358.6" font-size="7.2" font-family="'Liberation Sans', Arial, sans-serif" fill="#000" stroke="#000" stroke-width="0.25" font-weight="bold" textLength="18.0" lengthAdjust="spacingAndGlyphs">LMPP</text>
<text x="122.3" y="265.5" font-size="11.5" font-family="'Liberation Sans', Arial, sans-serif" fill="#000" stroke="#000" stroke-width="0.25" font-weight="bold">F</text>
<line x1="152.4" y1="271.7" x2="152.4" y2="346.4" stroke="#000" stroke-width="1.1"/>
<line x1="151.9" y1="346.4" x2="258" y2="346.4" stroke="#000" stroke-width="1.1"/>
<line x1="149.8" y1="272.2" x2="152.4" y2="272.2" stroke="#000" stroke-width="0.9"/>
<text x="149.6" y="274.2" font-size="5.6" font-family="'Liberation Sans', Arial, sans-serif" fill="#000" stroke="#000" stroke-width="0.25" text-anchor="end">100</text>
<line x1="149.8" y1="287.03999999999996" x2="152.4" y2="287.03999999999996" stroke="#000" stroke-width="0.9"/>
<text x="149.6" y="289.03999999999996" font-size="5.6" font-family="'Liberation Sans', Arial, sans-serif" fill="#000" stroke="#000" stroke-width="0.25" text-anchor="end">80</text>
<line x1="149.8" y1="301.88" x2="152.4" y2="301.88" stroke="#000" stroke-width="0.9"/>
<text x="149.6" y="303.88" font-size="5.6" font-family="'Liberation Sans', Arial, sans-serif" fill="#000" stroke="#000" stroke-width="0.25" text-anchor="end">60</text>
<line x1="149.8" y1="316.71999999999997" x2="152.4" y2="316.71999999999997" stroke="#000" stroke-width="0.9"/>
<text x="149.6" y="318.71999999999997" font-size="5.6" font-family="'Liberation Sans', Arial, sans-serif" fill="#000" stroke="#000" stroke-width="0.25" text-anchor="end">40</text>
<line x1="149.8" y1="331.56" x2="152.4" y2="331.56" stroke="#000" stroke-width="0.9"/>
<text x="149.6" y="333.56" font-size="5.6" font-family="'Liberation Sans', Arial, sans-serif" fill="#000" stroke="#000" stroke-width="0.25" text-anchor="end">20</text>
<line x1="149.8" y1="346.4" x2="152.4" y2="346.4" stroke="#000" stroke-width="0.9"/>
<text x="149.6" y="348.4" font-size="5.6" font-family="'Liberation Sans', Arial, sans-serif" fill="#000" stroke="#000" stroke-width="0.25" text-anchor="end">0</text>
<line x1="150.9" y1="279.62" x2="152.4" y2="279.62" stroke="#000" stroke-width="0.8"/>
<line x1="150.9" y1="294.46" x2="152.4" y2="294.46" stroke="#000" stroke-width="0.8"/>
<line x1="150.9" y1="309.29999999999995" x2="152.4" y2="309.29999999999995" stroke="#000" stroke-width="0.8"/>
<line x1="150.9" y1="324.14" x2="152.4" y2="324.14" stroke="#000" stroke-width="0.8"/>
<line x1="150.9" y1="338.97999999999996" x2="152.4" y2="338.97999999999996" stroke="#000" stroke-width="0.8"/>
<text x="133.2" y="308.4" font-size="6.2" font-family="'Liberation Sans', Arial, sans-serif" fill="#000" stroke="#000" stroke-width="0.25" text-anchor="middle" textLength="50.5" lengthAdjust="spacingAndGlyphs" transform="rotate(-90 133.2 308.4)">Cells per femur, 10</text>
<text x="128.6" y="282.8" font-size="4.2" font-family="'Liberation Sans', Arial, sans-serif" fill="#000" stroke="#000" stroke-width="0.05" text-anchor="middle" transform="rotate(-90 128.6 282.8)">3</text>
<line x1="179.5" y1="271.0" x2="179.5" y2="346.4" stroke="#222" stroke-width="0.8" stroke-dasharray="0.7,0.9"/>
<line x1="161.5" y1="286.8" x2="161.5" y2="290.008" stroke="#000" stroke-width="1.0"/>
<line x1="159.0" y1="286.8" x2="164.0" y2="286.8" stroke="#000" stroke-width="1.0"/>
<rect x="157.6" y="290.008" width="8.400000000000006" height="56.391999999999996" fill="#fff" stroke="#000" stroke-width="1.1"/>
<line x1="170.5" y1="297.8" x2="170.5" y2="300.39599999999996" stroke="#000" stroke-width="1.0"/>
<line x1="168.0" y1="297.8" x2="173.0" y2="297.8" stroke="#000" stroke-width="1.0"/>
<rect x="166.4" y="300.39599999999996" width="8.799999999999983" height="46.00400000000002" fill="#7c7c7c" stroke="#000" stroke-width="1.1"/>
<circle cx="170.70" cy="291.3" r="1.4" fill="#000"/>
<line x1="187.5" y1="340.8" x2="187.5" y2="341.3" stroke="#000" stroke-width="1.0"/>
<line x1="185.425" y1="340.8" x2="189.575" y2="340.8" stroke="#000" stroke-width="1.0"/>
<rect x="183.3" y="341.3" width="8.299999999999983" height="5.099999999999966" fill="#fff" stroke="#000" stroke-width="1.1"/>
<line x1="196.5" y1="341.0" x2="196.5" y2="341.5" stroke="#000" stroke-width="1.0"/>
<line x1="194.3" y1="341.0" x2="198.7" y2="341.0" stroke="#000" stroke-width="1.0"/>
<rect x="192.1" y="341.5" width="8.800000000000011" height="4.899999999999977" fill="#7c7c7c" stroke="#000" stroke-width="1.1"/>
<line x1="214.5" y1="315.5" x2="214.5" y2="316.1" stroke="#000" stroke-width="1.0"/>
<line x1="212.35" y1="315.5" x2="216.65" y2="315.5" stroke="#000" stroke-width="1.0"/>
<rect x="209.8" y="316.1" width="8.599999999999994" height="30.299999999999955" fill="#fff" stroke="#000" stroke-width="1.1"/>
<line x1="223.5" y1="325.6" x2="223.5" y2="326.3" stroke="#000" stroke-width="1.0"/>
<line x1="221.35" y1="325.6" x2="225.65" y2="325.6" stroke="#000" stroke-width="1.0"/>
<rect x="218.9" y="326.3" width="8.599999999999994" height="20.099999999999966" fill="#7c7c7c" stroke="#000" stroke-width="1.1"/>
<circle cx="219.70" cy="310.9" r="1.4" fill="#000"/>
<circle cx="223.50" cy="310.9" r="1.4" fill="#000"/>
<circle cx="227.30" cy="310.9" r="1.4" fill="#000"/>
<line x1="240.5" y1="323.6" x2="240.5" y2="324.2" stroke="#000" stroke-width="1.0"/>
<line x1="238.35" y1="323.6" x2="242.65" y2="323.6" stroke="#000" stroke-width="1.0"/>
<rect x="236.4" y="324.2" width="8.599999999999994" height="22.19999999999999" fill="#fff" stroke="#000" stroke-width="1.1"/>
<line x1="249.5" y1="324.0" x2="249.5" y2="324.6" stroke="#000" stroke-width="1.0"/>
<line x1="247.4" y1="324.0" x2="251.6" y2="324.0" stroke="#000" stroke-width="1.0"/>
<rect x="245.6" y="324.6" width="8.400000000000006" height="21.799999999999955" fill="#7c7c7c" stroke="#000" stroke-width="1.1"/>
<text x="158.9" y="357.5" font-size="7.2" font-family="'Liberation Sans', Arial, sans-serif" fill="#000" stroke="#000" stroke-width="0.25" font-weight="bold" textLength="12.2" lengthAdjust="spacingAndGlyphs">LSK</text>
<text x="180.7" y="357.5" font-size="7.2" font-family="'Liberation Sans', Arial, sans-serif" fill="#000" stroke="#000" stroke-width="0.25" font-weight="bold" textLength="24.3" lengthAdjust="spacingAndGlyphs">LT-HSC</text>
<text x="207.1" y="357.5" font-size="7.2" font-family="'Liberation Sans', Arial, sans-serif" fill="#000" stroke="#000" stroke-width="0.25" font-weight="bold" textLength="24.3" lengthAdjust="spacingAndGlyphs">ST-HSC</text>
<text x="235.6" y="357.5" font-size="7.2" font-family="'Liberation Sans', Arial, sans-serif" fill="#000" stroke="#000" stroke-width="0.25" font-weight="bold" textLength="19.1" lengthAdjust="spacingAndGlyphs">LMPP</text>
<text x="266.8" y="265.6" font-size="11.5" font-family="'Liberation Sans', Arial, sans-serif" fill="#000" stroke="#000" stroke-width="0.25" font-weight="bold">G</text>
<line x1="302.3" y1="271.1" x2="302.3" y2="346.4" stroke="#000" stroke-width="1.1"/>
<line x1="301.8" y1="346.4" x2="355.5" y2="346.4" stroke="#000" stroke-width="1.1"/>
<line x1="299.7" y1="271.6" x2="302.3" y2="271.6" stroke="#000" stroke-width="0.9"/>
<text x="299.5" y="273.6" font-size="5.6" font-family="'Liberation Sans', Arial, sans-serif" fill="#000" stroke="#000" stroke-width="0.25" text-anchor="end">20%</text>
<line x1="299.7" y1="290.3" x2="302.3" y2="290.3" stroke="#000" stroke-width="0.9"/>
<text x="299.5" y="292.3" font-size="5.6" font-family="'Liberation Sans', Arial, sans-serif" fill="#000" stroke="#000" stroke-width="0.25" text-anchor="end">15%</text>
<line x1="299.7" y1="309.0" x2="302.3" y2="309.0" stroke="#000" stroke-width="0.9"/>
<text x="299.5" y="311.0" font-size="5.6" font-family="'Liberation Sans', Arial, sans-serif" fill="#000" stroke="#000" stroke-width="0.25" text-anchor="end">10%</text>
<line x1="299.7" y1="327.7" x2="302.3" y2="327.7" stroke="#000" stroke-width="0.9"/>
<text x="299.5" y="329.7" font-size="5.6" font-family="'Liberation Sans', Arial, sans-serif" fill="#000" stroke="#000" stroke-width="0.25" text-anchor="end">5%</text>
<line x1="299.7" y1="346.4" x2="302.3" y2="346.4" stroke="#000" stroke-width="0.9"/>
<text x="299.5" y="348.4" font-size="5.6" font-family="'Liberation Sans', Arial, sans-serif" fill="#000" stroke="#000" stroke-width="0.25" text-anchor="end">0%</text>
<text x="281.2" y="309.0" font-size="6.2" font-family="'Liberation Sans', Arial, sans-serif" fill="#000" stroke="#000" stroke-width="0.25" text-anchor="middle" textLength="52.5" lengthAdjust="spacingAndGlyphs" transform="rotate(-90 281.2 309.0)">% AnnexinV+ 7aad-</text>
<line x1="309.5" y1="332.2" x2="309.5" y2="336.0" stroke="#000" stroke-width="1.0"/>
<line x1="307.15" y1="332.2" x2="311.85" y2="332.2" stroke="#000" stroke-width="1.0"/>
<rect x="304.7" y="336.0" width="10.100000000000023" height="10.399999999999977" fill="#fff" stroke="#000" stroke-width="1.1"/>
<line x1="320.5" y1="293.7" x2="320.5" y2="302.4" stroke="#000" stroke-width="1.0"/>
<line x1="317.65" y1="293.7" x2="323.35" y2="293.7" stroke="#000" stroke-width="1.0"/>
<rect x="315.6" y="302.4" width="10.0" height="44.0" fill="#7c7c7c" stroke="#000" stroke-width="1.1"/>
<circle cx="319.00" cy="286.3" r="1.4" fill="#000"/>
<circle cx="322.80" cy="286.3" r="1.4" fill="#000"/>
<line x1="336.5" y1="331.6" x2="336.5" y2="333.5" stroke="#000" stroke-width="1.0"/>
<line x1="334.15" y1="331.6" x2="338.85" y2="331.6" stroke="#000" stroke-width="1.0"/>
<rect x="331.3" y="333.5" width="9.5" height="12.899999999999977" fill="#fff" stroke="#000" stroke-width="1.1"/>
<line x1="346.5" y1="288.5" x2="346.5" y2="298.0" stroke="#000" stroke-width="1.0"/>
<line x1="343.65" y1="288.5" x2="349.35" y2="288.5" stroke="#000" stroke-width="1.0"/>
<rect x="341.7" y="298.0" width="10.5" height="48.39999999999998" fill="#7c7c7c" stroke="#000" stroke-width="1.1"/>
<circle cx="344.60" cy="280.9" r="1.4" fill="#000"/>
<circle cx="348.40" cy="280.9" r="1.4" fill="#000"/>
<text x="301.7" y="359.0" font-size="7.2" font-family="'Liberation Sans', Arial, sans-serif" fill="#000" stroke="#000" stroke-width="0.25" font-weight="bold" textLength="23.7" lengthAdjust="spacingAndGlyphs">LT-HSC</text>
<text x="330.9" y="359.0" font-size="7.2" font-family="'Liberation Sans', Arial, sans-serif" fill="#000" stroke="#000" stroke-width="0.25" font-weight="bold" textLength="23.3" lengthAdjust="spacingAndGlyphs">ST-HSC</text>
<text x="331.1" y="368.2" font-size="7.2" font-family="'Liberation Sans', Arial, sans-serif" fill="#000" stroke="#000" stroke-width="0.25" font-weight="bold" textLength="23.1" lengthAdjust="spacingAndGlyphs">+LMPP</text>
<text x="362.8" y="265.7" font-size="11.5" font-family="'Liberation Sans', Arial, sans-serif" fill="#000" stroke="#000" stroke-width="0.25" font-weight="bold">H</text>
<line x1="405.7" y1="271.4" x2="405.7" y2="346.0" stroke="#000" stroke-width="1.1"/>
<line x1="405.2" y1="346.0" x2="461.6" y2="346.0" stroke="#000" stroke-width="1.1"/>
<line x1="403.09999999999997" y1="271.9" x2="405.7" y2="271.9" stroke="#000" stroke-width="0.9"/>
<text x="402.9" y="273.9" font-size="5.6" font-family="'Liberation Sans', Arial, sans-serif" fill="#000" stroke="#000" stroke-width="0.25" text-anchor="end">15%</text>
<line x1="403.09999999999997" y1="296.59999999999997" x2="405.7" y2="296.59999999999997" stroke="#000" stroke-width="0.9"/>
<text x="402.9" y="298.59999999999997" font-size="5.6" font-family="'Liberation Sans', Arial, sans-serif" fill="#000" stroke="#000" stroke-width="0.25" text-anchor="end">10%</text>
<line x1="403.09999999999997" y1="321.3" x2="405.7" y2="321.3" stroke="#000" stroke-width="0.9"/>
<text x="402.9" y="323.3" font-size="5.6" font-family="'Liberation Sans', Arial, sans-serif" fill="#000" stroke="#000" stroke-width="0.25" text-anchor="end">5%</text>
<line x1="403.09999999999997" y1="346.0" x2="405.7" y2="346.0" stroke="#000" stroke-width="0.9"/>
<text x="402.9" y="348.0" font-size="5.6" font-family="'Liberation Sans', Arial, sans-serif" fill="#000" stroke="#000" stroke-width="0.25" text-anchor="end">0%</text>
<text x="379.6" y="304.0" font-size="6.2" font-family="'Liberation Sans', Arial, sans-serif" fill="#000" stroke="#000" stroke-width="0.25" text-anchor="middle" textLength="34.5" lengthAdjust="spacingAndGlyphs" transform="rotate(-90 379.6 304.0)">% BrdU+ cells,</text>
<text x="385.0" y="303.2" font-size="6.2" font-family="'Liberation Sans', Arial, sans-serif" fill="#000" stroke="#000" stroke-width="0.25" text-anchor="middle" textLength="47.4" lengthAdjust="spacingAndGlyphs" transform="rotate(-90 385.0 303.2)">16hrs Incorporation</text>
<line x1="414.5" y1="313.4" x2="414.5" y2="317.7" stroke="#000" stroke-width="1.0"/>
<line x1="412.0" y1="313.4" x2="417.0" y2="313.4" stroke="#000" stroke-width="1.0"/>
<rect x="409.1" y="317.7" width="10.5" height="28.30000000000001" fill="#fff" stroke="#000" stroke-width="1.1"/>
<line x1="425.5" y1="282.6" x2="425.5" y2="290.2" stroke="#000" stroke-width="1.0"/>
<line x1="422.75" y1="282.6" x2="428.25" y2="282.6" stroke="#000" stroke-width="1.0"/>
<rect x="420.4" y="290.2" width="10.400000000000034" height="55.80000000000001" fill="#7c7c7c" stroke="#000" stroke-width="1.1"/>
<circle cx="422.80" cy="275.3" r="1.4" fill="#000"/>
<circle cx="426.60" cy="275.3" r="1.4" fill="#000"/>
<line x1="440.5" y1="279.1" x2="440.5" y2="289.1" stroke="#000" stroke-width="1.0"/>
<line x1="437.5" y1="279.1" x2="443.5" y2="279.1" stroke="#000" stroke-width="1.0"/>
<rect x="435.5" y="289.1" width="10.5" height="56.89999999999998" fill="#fff" stroke="#000" stroke-width="1.1"/>
<line x1="451.5" y1="290.6" x2="451.5" y2="296.5" stroke="#000" stroke-width="1.0"/>
<line x1="448.7" y1="290.6" x2="454.3" y2="290.6" stroke="#000" stroke-width="1.0"/>
<rect x="446.8" y="296.5" width="10.0" height="49.5" fill="#7c7c7c" stroke="#000" stroke-width="1.1"/>
<text x="406.3" y="359.0" font-size="7.2" font-family="'Liberation Sans', Arial, sans-serif" fill="#000" stroke="#000" stroke-width="0.25" font-weight="bold" textLength="23.7" lengthAdjust="spacingAndGlyphs">LT-HSC</text>
<text x="437.5" y="359.0" font-size="7.2" font-family="'Liberation Sans', Arial, sans-serif" fill="#000" stroke="#000" stroke-width="0.25" font-weight="bold" textLength="23.3" lengthAdjust="spacingAndGlyphs">ST-HSC</text>
<text x="437.8" y="368.2" font-size="7.2" font-family="'Liberation Sans', Arial, sans-serif" fill="#000" stroke="#000" stroke-width="0.25" font-weight="bold" textLength="23.1" lengthAdjust="spacingAndGlyphs">+LMPP</text>
<rect x="475.3" y="269.0" width="6.8" height="6.6" fill="#fff" stroke="#000" stroke-width="1.1"/>
<text x="487.0" y="275.5" font-size="8.0" font-family="'Liberation Sans', Arial, sans-serif" fill="#000" stroke="#000" stroke-width="0.25" textLength="11.0" lengthAdjust="spacingAndGlyphs">WT</text>
<rect x="475.3" y="281.7" width="6.8" height="6.6" fill="#7c7c7c" stroke="#000" stroke-width="1.1"/>
<text x="487.0" y="288.2" font-size="8.0" font-family="'Liberation Sans', Arial, sans-serif" fill="#000" stroke="#000" stroke-width="0.25" textLength="33.5" lengthAdjust="spacingAndGlyphs">CD41-KO</text>
</svg>
</body></html>
